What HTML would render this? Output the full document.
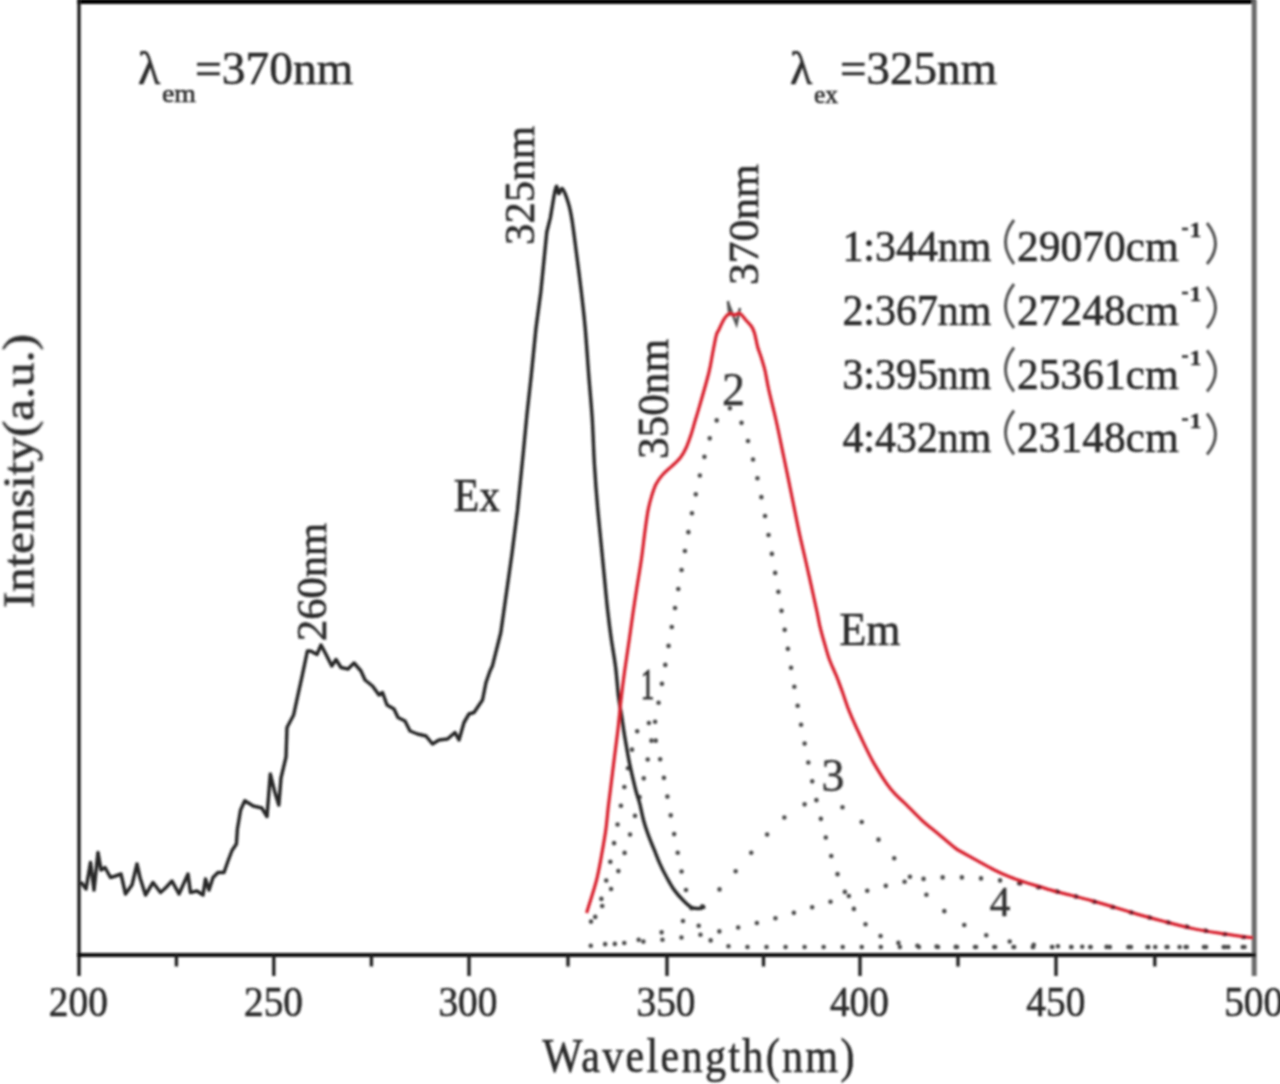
<!DOCTYPE html>
<html><head><meta charset="utf-8"><style>
html,body{margin:0;padding:0;background:#fff;}
body{width:1280px;height:1084px;overflow:hidden;position:relative;font-family:"Liberation Serif",serif;}
svg{position:absolute;left:0;top:0;}
</style></head><body>
<svg width="1280" height="1084" viewBox="0 0 1280 1084">
<defs><filter id="b" x="0" y="0" width="1280" height="1084" filterUnits="userSpaceOnUse"><feGaussianBlur stdDeviation="1"/></filter></defs>
<rect width="1280" height="1084" fill="#fff"/>
<g filter="url(#b)">
<line x1="77" y1="1.6" x2="1256" y2="1.6" stroke="#000" stroke-width="5"/>
<line x1="79" y1="0" x2="79" y2="976" stroke="#1e1e1e" stroke-width="3.4"/>
<line x1="1254.2" y1="0" x2="1254.2" y2="976" stroke="#6a6a6a" stroke-width="5"/>
<line x1="77" y1="955" x2="1256" y2="955" stroke="#111" stroke-width="4"/>
<line x1="176.4" y1="955" x2="176.4" y2="966.5" stroke="#222" stroke-width="3.4"/>
<line x1="273.8" y1="955" x2="273.8" y2="976" stroke="#222" stroke-width="3.4"/>
<line x1="371.4" y1="955" x2="371.4" y2="966.5" stroke="#222" stroke-width="3.4"/>
<line x1="469.0" y1="955" x2="469.0" y2="976" stroke="#222" stroke-width="3.4"/>
<line x1="568.0" y1="955" x2="568.0" y2="966.5" stroke="#222" stroke-width="3.4"/>
<line x1="667.0" y1="955" x2="667.0" y2="976" stroke="#222" stroke-width="3.4"/>
<line x1="763.5" y1="955" x2="763.5" y2="966.5" stroke="#222" stroke-width="3.4"/>
<line x1="860.0" y1="955" x2="860.0" y2="976" stroke="#222" stroke-width="3.4"/>
<line x1="958.0" y1="955" x2="958.0" y2="966.5" stroke="#222" stroke-width="3.4"/>
<line x1="1056.0" y1="955" x2="1056.0" y2="976" stroke="#222" stroke-width="3.4"/>
<line x1="1154.8" y1="955" x2="1154.8" y2="966.5" stroke="#222" stroke-width="3.4"/>
<path d="M587.0,932.4 L587.5,931.7 L588.0,930.9 L588.5,930.2 L589.0,929.4 L589.5,928.6 L590.0,927.7 L590.5,926.9 L591.0,925.9 L591.5,925.0 L592.0,924.0 L592.5,923.0 L593.0,922.0 L593.5,920.9 L594.0,919.8 L594.5,918.6 L595.0,917.5 L595.5,916.2 L596.0,915.0 L596.5,913.7 L597.0,912.3 L597.5,911.0 L598.0,909.6 L598.5,908.1 L599.0,906.6 L599.5,905.1 L600.0,903.5 L600.5,901.9 L601.0,900.2 L601.5,898.5 L602.0,896.8 L602.5,895.0 L603.0,893.2 L603.5,891.3 L604.0,889.4 L604.5,887.5 L605.0,885.5 L605.5,883.5 L606.0,881.4 L606.5,879.3 L607.0,877.2 L607.5,875.0 L608.0,872.8 L608.5,870.5 L609.0,868.2 L609.5,865.9 L610.0,863.5 L610.5,861.1 L611.0,858.7 L611.5,856.3 L612.0,853.8 L612.5,851.2 L613.0,848.7 L613.5,846.1 L614.0,843.5 L614.5,840.9 L615.0,838.2 L615.5,835.6 L616.0,832.9 L616.5,830.2 L617.0,827.5 L617.5,824.7 L618.0,822.0 L618.5,819.2 L619.0,816.5 L619.5,813.7 L620.0,810.9 L620.5,808.1 L621.0,805.4 L621.5,802.6 L622.0,799.8 L622.5,797.1 L623.0,794.3 L623.5,791.6 L624.0,788.9 L624.5,786.2 L625.0,783.5 L625.5,780.9 L626.0,778.2 L626.5,775.6 L627.0,773.0 L627.5,770.5 L628.0,768.0 L628.5,765.5 L629.0,763.1 L629.5,760.7 L630.0,758.4 L630.5,756.1 L631.0,753.9 L631.5,751.7 L632.0,749.6 L632.5,747.5 L633.0,745.5 L633.5,743.6 L634.0,741.7 L634.5,739.9 L635.0,738.1 L635.5,736.5 L636.0,734.9 L636.5,733.3 L637.0,731.9 L637.5,730.5 L638.0,729.2 L638.5,728.0 L639.0,726.9 L639.5,725.9 L640.0,724.9 L640.5,724.0 L641.0,723.3 L641.5,722.6 L642.0,722.0 L642.5,721.4 L643.0,721.0 L643.5,720.7 L644.0,720.5 L644.5,720.3 L645.0,720.3 L645.5,720.3 L646.0,720.4 L646.5,720.6 L647.0,721.0 L647.5,721.4 L648.0,721.9 L648.5,722.5 L649.0,723.1 L649.5,723.9 L650.0,724.8 L650.5,725.7 L651.0,726.8 L651.5,727.9 L652.0,729.1 L652.5,730.4 L653.0,731.8 L653.5,733.2 L654.0,734.7 L654.5,736.3 L655.0,738.0 L655.5,739.8 L656.0,741.6 L656.5,743.5 L657.0,745.4 L657.5,747.4 L658.0,749.5 L658.5,751.6 L659.0,753.8 L659.5,756.1 L660.0,758.4 L660.5,760.7 L661.0,763.1 L661.5,765.5 L662.0,768.0 L662.5,770.5 L663.0,773.1 L663.5,775.7 L664.0,778.3 L664.5,780.9 L665.0,783.6 L665.5,786.3 L666.0,789.0 L666.5,791.8 L667.0,794.5 L667.5,797.3 L668.0,800.1 L668.5,802.8 L669.0,805.6 L669.5,808.4 L670.0,811.2 L670.5,814.0 L671.0,816.8 L671.5,819.6 L672.0,822.3 L672.5,825.1 L673.0,827.8 L673.5,830.6 L674.0,833.3 L674.5,836.0 L675.0,838.7 L675.5,841.3 L676.0,844.0 L676.5,846.6 L677.0,849.2 L677.5,851.7 L678.0,854.3 L678.5,856.8 L679.0,859.2 L679.5,861.7 L680.0,864.1 L680.5,866.4 L681.0,868.8 L681.5,871.1 L682.0,873.3 L682.5,875.6 L683.0,877.7 L683.5,879.9 L684.0,882.0 L684.5,884.1 L685.0,886.1 L685.5,888.1 L686.0,890.0 L686.5,891.9 L687.0,893.8 L687.5,895.6 L688.0,897.4 L688.5,899.1 L689.0,900.8 L689.5,902.4 L690.0,904.1 L690.5,905.6 L691.0,907.2 L691.5,908.6 L692.0,910.1 L692.5,911.5 L693.0,912.9 L693.5,914.2 L694.0,915.5 L694.5,916.7 L695.0,917.9 L695.5,919.1 L696.0,920.3 L696.5,921.4 L697.0,922.4 L697.5,923.5 L698.0,924.5 L698.5,925.4 L699.0,926.4 L699.5,927.3 L700.0,928.1 L700.5,929.0 L701.0,929.8 L701.5,930.6 L702.0,931.3 L702.5,932.0 L703.0,932.7 L703.5,933.4 L704.0,934.0 L704.5,934.7 L705.0,935.2 L705.5,935.8 L706.0,936.4 L706.5,936.9 L707.0,937.4 L707.5,937.9 L708.0,938.3 L708.5,938.8 L709.0,939.2 L709.5,939.6 L710.0,940.0 L710.5,940.3 L711.0,940.7 L711.5,941.0 L712.0,941.3 L712.5,941.6 L713.0,941.9 L713.5,942.2 L714.0,942.5 L714.5,942.7 L715.0,943.0 L715.5,943.2 L716.0,943.4 L716.5,943.6 L717.0,943.8 L717.5,944.0 L718.0,944.2 L718.5,944.3 L719.0,944.5 L719.5,944.6 L720.0,944.8 L720.5,944.9 L721.0,945.0 L721.5,945.2 L722.0,945.3 L722.5,945.4 L723.0,945.5 L723.5,945.6 L724.0,945.7 L724.5,945.7 L725.0,945.8 L725.5,945.9 L726.0,946.0 L726.5,946.0 L727.0,946.1 L727.5,946.2 L728.0,946.2 L728.5,946.3 L729.0,946.3 L729.5,946.4 L730.0,946.4 L730.5,946.4 L731.0,946.5 L731.5,946.5 L732.0,946.6 L732.5,946.6 L733.0,946.6 L733.5,946.6 L734.0,946.7 L734.5,946.7 L735.0,946.7 L735.5,946.7 L736.0,946.8 L736.5,946.8 L737.0,946.8 L737.5,946.8 L738.0,946.8 L738.5,946.8 L739.0,946.8 L739.5,946.9 L740.0,946.9 L740.5,946.9 L741.0,946.9 L741.5,946.9 L742.0,946.9 L742.5,946.9 L743.0,946.9 L743.5,946.9 L744.0,946.9 L744.5,946.9 L745.0,946.9 L745.5,946.9 L746.0,946.9 L746.5,947.0 L747.0,947.0 L747.5,947.0 L748.0,947.0 L748.5,947.0 L749.0,947.0 L749.5,947.0 L750.0,947.0 L750.5,947.0 L751.0,947.0 L751.5,947.0 L752.0,947.0 L752.5,947.0 L753.0,947.0 L753.5,947.0 L754.0,947.0 L754.5,947.0 L755.0,947.0 L755.5,947.0 L756.0,947.0 L756.5,947.0 L757.0,947.0 L757.5,947.0 L758.0,947.0 L758.5,947.0 L759.0,947.0 L759.5,947.0 L760.0,947.0 L760.5,947.0 L761.0,947.0 L761.5,947.0 L762.0,947.0 L762.5,947.0 L763.0,947.0 L763.5,947.0 L764.0,947.0 L764.5,947.0 L765.0,947.0 L765.5,947.0 L766.0,947.0 L766.5,947.0 L767.0,947.0 L767.5,947.0 L768.0,947.0 L768.5,947.0 L769.0,947.0 L769.5,947.0 L770.0,947.0 L770.5,947.0 L771.0,947.0 L771.5,947.0 L772.0,947.0 L772.5,947.0 L773.0,947.0 L773.5,947.0 L774.0,947.0 L774.5,947.0 L775.0,947.0 L775.5,947.0 L776.0,947.0 L776.5,947.0 L777.0,947.0 L777.5,947.0 L778.0,947.0 L778.5,947.0 L779.0,947.0 L779.5,947.0 L780.0,947.0 L780.5,947.0 L781.0,947.0 L781.5,947.0 L782.0,947.0 L782.5,947.0 L783.0,947.0 L783.5,947.0 L784.0,947.0 L784.5,947.0 L785.0,947.0 L785.5,947.0 L786.0,947.0 L786.5,947.0 L787.0,947.0 L787.5,947.0 L788.0,947.0 L788.5,947.0 L789.0,947.0 L789.5,947.0 L790.0,947.0 L790.5,947.0 L791.0,947.0 L791.5,947.0 L792.0,947.0 L792.5,947.0 L793.0,947.0 L793.5,947.0 L794.0,947.0 L794.5,947.0 L795.0,947.0 L795.5,947.0 L796.0,947.0 L796.5,947.0 L797.0,947.0 L797.5,947.0 L798.0,947.0 L798.5,947.0 L799.0,947.0 L799.5,947.0 L800.0,947.0 L800.5,947.0 L801.0,947.0 L801.5,947.0 L802.0,947.0 L802.5,947.0 L803.0,947.0 L803.5,947.0 L804.0,947.0 L804.5,947.0 L805.0,947.0 L805.5,947.0 L806.0,947.0 L806.5,947.0 L807.0,947.0 L807.5,947.0 L808.0,947.0 L808.5,947.0 L809.0,947.0 L809.5,947.0 L810.0,947.0 L810.5,947.0 L811.0,947.0 L811.5,947.0 L812.0,947.0 L812.5,947.0 L813.0,947.0 L813.5,947.0 L814.0,947.0 L814.5,947.0 L815.0,947.0 L815.5,947.0 L816.0,947.0 L816.5,947.0 L817.0,947.0 L817.5,947.0 L818.0,947.0 L818.5,947.0 L819.0,947.0 L819.5,947.0 L820.0,947.0 L820.5,947.0 L821.0,947.0 L821.5,947.0 L822.0,947.0 L822.5,947.0 L823.0,947.0 L823.5,947.0 L824.0,947.0 L824.5,947.0 L825.0,947.0 L825.5,947.0 L826.0,947.0 L826.5,947.0 L827.0,947.0 L827.5,947.0 L828.0,947.0 L828.5,947.0 L829.0,947.0 L829.5,947.0 L830.0,947.0 L830.5,947.0 L831.0,947.0 L831.5,947.0 L832.0,947.0 L832.5,947.0 L833.0,947.0 L833.5,947.0 L834.0,947.0 L834.5,947.0 L835.0,947.0 L835.5,947.0 L836.0,947.0 L836.5,947.0 L837.0,947.0 L837.5,947.0 L838.0,947.0 L838.5,947.0 L839.0,947.0 L839.5,947.0 L840.0,947.0 L840.5,947.0 L841.0,947.0 L841.5,947.0 L842.0,947.0 L842.5,947.0 L843.0,947.0 L843.5,947.0 L844.0,947.0 L844.5,947.0 L845.0,947.0 L845.5,947.0 L846.0,947.0 L846.5,947.0 L847.0,947.0 L847.5,947.0 L848.0,947.0 L848.5,947.0 L849.0,947.0 L849.5,947.0 L850.0,947.0 L850.5,947.0 L851.0,947.0 L851.5,947.0 L852.0,947.0 L852.5,947.0 L853.0,947.0 L853.5,947.0 L854.0,947.0 L854.5,947.0 L855.0,947.0 L855.5,947.0 L856.0,947.0 L856.5,947.0 L857.0,947.0 L857.5,947.0 L858.0,947.0 L858.5,947.0 L859.0,947.0 L859.5,947.0 L860.0,947.0 L860.5,947.0 L861.0,947.0 L861.5,947.0 L862.0,947.0 L862.5,947.0 L863.0,947.0 L863.5,947.0 L864.0,947.0 L864.5,947.0 L865.0,947.0 L865.5,947.0 L866.0,947.0 L866.5,947.0 L867.0,947.0 L867.5,947.0 L868.0,947.0 L868.5,947.0 L869.0,947.0 L869.5,947.0 L870.0,947.0 L870.5,947.0 L871.0,947.0 L871.5,947.0 L872.0,947.0 L872.5,947.0 L873.0,947.0 L873.5,947.0 L874.0,947.0 L874.5,947.0 L875.0,947.0 L875.5,947.0 L876.0,947.0 L876.5,947.0 L877.0,947.0 L877.5,947.0 L878.0,947.0 L878.5,947.0 L879.0,947.0 L879.5,947.0 L880.0,947.0 L880.5,947.0 L881.0,947.0 L881.5,947.0 L882.0,947.0 L882.5,947.0 L883.0,947.0 L883.5,947.0 L884.0,947.0 L884.5,947.0 L885.0,947.0 L885.5,947.0 L886.0,947.0 L886.5,947.0 L887.0,947.0 L887.5,947.0 L888.0,947.0 L888.5,947.0 L889.0,947.0 L889.5,947.0 L890.0,947.0 L890.5,947.0 L891.0,947.0 L891.5,947.0 L892.0,947.0 L892.5,947.0 L893.0,947.0 L893.5,947.0 L894.0,947.0 L894.5,947.0 L895.0,947.0 L895.5,947.0 L896.0,947.0 L896.5,947.0 L897.0,947.0 L897.5,947.0 L898.0,947.0 L898.5,947.0 L899.0,947.0 L899.5,947.0 L900.0,947.0 L900.5,947.0 L901.0,947.0 L901.5,947.0 L902.0,947.0 L902.5,947.0 L903.0,947.0 L903.5,947.0 L904.0,947.0 L904.5,947.0 L905.0,947.0 L905.5,947.0 L906.0,947.0 L906.5,947.0 L907.0,947.0 L907.5,947.0 L908.0,947.0 L908.5,947.0 L909.0,947.0 L909.5,947.0 L910.0,947.0 L910.5,947.0 L911.0,947.0 L911.5,947.0 L912.0,947.0 L912.5,947.0 L913.0,947.0 L913.5,947.0 L914.0,947.0 L914.5,947.0 L915.0,947.0 L915.5,947.0 L916.0,947.0 L916.5,947.0 L917.0,947.0 L917.5,947.0 L918.0,947.0 L918.5,947.0 L919.0,947.0 L919.5,947.0 L920.0,947.0 L920.5,947.0 L921.0,947.0 L921.5,947.0 L922.0,947.0 L922.5,947.0 L923.0,947.0 L923.5,947.0 L924.0,947.0 L924.5,947.0 L925.0,947.0 L925.5,947.0 L926.0,947.0 L926.5,947.0 L927.0,947.0 L927.5,947.0 L928.0,947.0 L928.5,947.0 L929.0,947.0 L929.5,947.0 L930.0,947.0 L930.5,947.0 L931.0,947.0 L931.5,947.0 L932.0,947.0 L932.5,947.0 L933.0,947.0 L933.5,947.0 L934.0,947.0 L934.5,947.0 L935.0,947.0 L935.5,947.0 L936.0,947.0 L936.5,947.0 L937.0,947.0 L937.5,947.0 L938.0,947.0 L938.5,947.0 L939.0,947.0 L939.5,947.0 L940.0,947.0 L940.5,947.0 L941.0,947.0 L941.5,947.0 L942.0,947.0 L942.5,947.0 L943.0,947.0 L943.5,947.0 L944.0,947.0 L944.5,947.0 L945.0,947.0 L945.5,947.0 L946.0,947.0 L946.5,947.0 L947.0,947.0 L947.5,947.0 L948.0,947.0 L948.5,947.0 L949.0,947.0 L949.5,947.0 L950.0,947.0 L950.5,947.0 L951.0,947.0 L951.5,947.0 L952.0,947.0 L952.5,947.0 L953.0,947.0 L953.5,947.0 L954.0,947.0 L954.5,947.0 L955.0,947.0 L955.5,947.0 L956.0,947.0 L956.5,947.0 L957.0,947.0 L957.5,947.0 L958.0,947.0 L958.5,947.0 L959.0,947.0 L959.5,947.0 L960.0,947.0 L960.5,947.0 L961.0,947.0 L961.5,947.0 L962.0,947.0 L962.5,947.0 L963.0,947.0 L963.5,947.0 L964.0,947.0 L964.5,947.0 L965.0,947.0 L965.5,947.0 L966.0,947.0 L966.5,947.0 L967.0,947.0 L967.5,947.0 L968.0,947.0 L968.5,947.0 L969.0,947.0 L969.5,947.0 L970.0,947.0 L970.5,947.0 L971.0,947.0 L971.5,947.0 L972.0,947.0 L972.5,947.0 L973.0,947.0 L973.5,947.0 L974.0,947.0 L974.5,947.0 L975.0,947.0 L975.5,947.0 L976.0,947.0 L976.5,947.0 L977.0,947.0 L977.5,947.0 L978.0,947.0 L978.5,947.0 L979.0,947.0 L979.5,947.0 L980.0,947.0 L980.5,947.0 L981.0,947.0 L981.5,947.0 L982.0,947.0 L982.5,947.0 L983.0,947.0 L983.5,947.0 L984.0,947.0 L984.5,947.0 L985.0,947.0 L985.5,947.0 L986.0,947.0 L986.5,947.0 L987.0,947.0 L987.5,947.0 L988.0,947.0 L988.5,947.0 L989.0,947.0 L989.5,947.0 L990.0,947.0 L990.5,947.0 L991.0,947.0 L991.5,947.0 L992.0,947.0 L992.5,947.0 L993.0,947.0 L993.5,947.0 L994.0,947.0 L994.5,947.0 L995.0,947.0 L995.5,947.0 L996.0,947.0 L996.5,947.0 L997.0,947.0 L997.5,947.0 L998.0,947.0 L998.5,947.0 L999.0,947.0 L999.5,947.0 L1000.0,947.0 L1000.5,947.0 L1001.0,947.0 L1001.5,947.0 L1002.0,947.0 L1002.5,947.0 L1003.0,947.0 L1003.5,947.0 L1004.0,947.0 L1004.5,947.0 L1005.0,947.0 L1005.5,947.0 L1006.0,947.0 L1006.5,947.0 L1007.0,947.0 L1007.5,947.0 L1008.0,947.0 L1008.5,947.0 L1009.0,947.0 L1009.5,947.0 L1010.0,947.0 L1010.5,947.0 L1011.0,947.0 L1011.5,947.0 L1012.0,947.0 L1012.5,947.0 L1013.0,947.0 L1013.5,947.0 L1014.0,947.0 L1014.5,947.0 L1015.0,947.0 L1015.5,947.0 L1016.0,947.0 L1016.5,947.0 L1017.0,947.0 L1017.5,947.0 L1018.0,947.0 L1018.5,947.0 L1019.0,947.0 L1019.5,947.0 L1020.0,947.0 L1020.5,947.0 L1021.0,947.0 L1021.5,947.0 L1022.0,947.0 L1022.5,947.0 L1023.0,947.0 L1023.5,947.0 L1024.0,947.0 L1024.5,947.0 L1025.0,947.0 L1025.5,947.0 L1026.0,947.0 L1026.5,947.0 L1027.0,947.0 L1027.5,947.0 L1028.0,947.0 L1028.5,947.0 L1029.0,947.0 L1029.5,947.0 L1030.0,947.0 L1030.5,947.0 L1031.0,947.0 L1031.5,947.0 L1032.0,947.0 L1032.5,947.0 L1033.0,947.0 L1033.5,947.0 L1034.0,947.0 L1034.5,947.0 L1035.0,947.0 L1035.5,947.0 L1036.0,947.0 L1036.5,947.0 L1037.0,947.0 L1037.5,947.0 L1038.0,947.0 L1038.5,947.0 L1039.0,947.0 L1039.5,947.0 L1040.0,947.0 L1040.5,947.0 L1041.0,947.0 L1041.5,947.0 L1042.0,947.0 L1042.5,947.0 L1043.0,947.0 L1043.5,947.0 L1044.0,947.0 L1044.5,947.0 L1045.0,947.0 L1045.5,947.0 L1046.0,947.0 L1046.5,947.0 L1047.0,947.0 L1047.5,947.0 L1048.0,947.0 L1048.5,947.0 L1049.0,947.0 L1049.5,947.0 L1050.0,947.0 L1050.5,947.0 L1051.0,947.0 L1051.5,947.0 L1052.0,947.0 L1052.5,947.0 L1053.0,947.0 L1053.5,947.0 L1054.0,947.0 L1054.5,947.0 L1055.0,947.0 L1055.5,947.0 L1056.0,947.0 L1056.5,947.0 L1057.0,947.0 L1057.5,947.0 L1058.0,947.0 L1058.5,947.0 L1059.0,947.0 L1059.5,947.0 L1060.0,947.0 L1060.5,947.0 L1061.0,947.0 L1061.5,947.0 L1062.0,947.0 L1062.5,947.0 L1063.0,947.0 L1063.5,947.0 L1064.0,947.0 L1064.5,947.0 L1065.0,947.0 L1065.5,947.0 L1066.0,947.0 L1066.5,947.0 L1067.0,947.0 L1067.5,947.0 L1068.0,947.0 L1068.5,947.0 L1069.0,947.0 L1069.5,947.0 L1070.0,947.0 L1070.5,947.0 L1071.0,947.0 L1071.5,947.0 L1072.0,947.0 L1072.5,947.0 L1073.0,947.0 L1073.5,947.0 L1074.0,947.0 L1074.5,947.0 L1075.0,947.0 L1075.5,947.0 L1076.0,947.0 L1076.5,947.0 L1077.0,947.0 L1077.5,947.0 L1078.0,947.0 L1078.5,947.0 L1079.0,947.0 L1079.5,947.0 L1080.0,947.0 L1080.5,947.0 L1081.0,947.0 L1081.5,947.0 L1082.0,947.0 L1082.5,947.0 L1083.0,947.0 L1083.5,947.0 L1084.0,947.0 L1084.5,947.0 L1085.0,947.0 L1085.5,947.0 L1086.0,947.0 L1086.5,947.0 L1087.0,947.0 L1087.5,947.0 L1088.0,947.0 L1088.5,947.0 L1089.0,947.0 L1089.5,947.0 L1090.0,947.0 L1090.5,947.0 L1091.0,947.0 L1091.5,947.0 L1092.0,947.0 L1092.5,947.0 L1093.0,947.0 L1093.5,947.0 L1094.0,947.0 L1094.5,947.0 L1095.0,947.0 L1095.5,947.0 L1096.0,947.0 L1096.5,947.0 L1097.0,947.0 L1097.5,947.0 L1098.0,947.0 L1098.5,947.0 L1099.0,947.0 L1099.5,947.0 L1100.0,947.0 L1100.5,947.0 L1101.0,947.0 L1101.5,947.0 L1102.0,947.0 L1102.5,947.0 L1103.0,947.0 L1103.5,947.0 L1104.0,947.0 L1104.5,947.0 L1105.0,947.0 L1105.5,947.0 L1106.0,947.0 L1106.5,947.0 L1107.0,947.0 L1107.5,947.0 L1108.0,947.0 L1108.5,947.0 L1109.0,947.0 L1109.5,947.0 L1110.0,947.0 L1110.5,947.0 L1111.0,947.0 L1111.5,947.0 L1112.0,947.0 L1112.5,947.0 L1113.0,947.0 L1113.5,947.0 L1114.0,947.0 L1114.5,947.0 L1115.0,947.0 L1115.5,947.0 L1116.0,947.0 L1116.5,947.0 L1117.0,947.0 L1117.5,947.0 L1118.0,947.0 L1118.5,947.0 L1119.0,947.0 L1119.5,947.0 L1120.0,947.0 L1120.5,947.0 L1121.0,947.0 L1121.5,947.0 L1122.0,947.0 L1122.5,947.0 L1123.0,947.0 L1123.5,947.0 L1124.0,947.0 L1124.5,947.0 L1125.0,947.0 L1125.5,947.0 L1126.0,947.0 L1126.5,947.0 L1127.0,947.0 L1127.5,947.0 L1128.0,947.0 L1128.5,947.0 L1129.0,947.0 L1129.5,947.0 L1130.0,947.0 L1130.5,947.0 L1131.0,947.0 L1131.5,947.0 L1132.0,947.0 L1132.5,947.0 L1133.0,947.0 L1133.5,947.0 L1134.0,947.0 L1134.5,947.0 L1135.0,947.0 L1135.5,947.0 L1136.0,947.0 L1136.5,947.0 L1137.0,947.0 L1137.5,947.0 L1138.0,947.0 L1138.5,947.0 L1139.0,947.0 L1139.5,947.0 L1140.0,947.0 L1140.5,947.0 L1141.0,947.0 L1141.5,947.0 L1142.0,947.0 L1142.5,947.0 L1143.0,947.0 L1143.5,947.0 L1144.0,947.0 L1144.5,947.0 L1145.0,947.0 L1145.5,947.0 L1146.0,947.0 L1146.5,947.0 L1147.0,947.0 L1147.5,947.0 L1148.0,947.0 L1148.5,947.0 L1149.0,947.0 L1149.5,947.0 L1150.0,947.0 L1150.5,947.0 L1151.0,947.0 L1151.5,947.0 L1152.0,947.0 L1152.5,947.0 L1153.0,947.0 L1153.5,947.0 L1154.0,947.0 L1154.5,947.0 L1155.0,947.0 L1155.5,947.0 L1156.0,947.0 L1156.5,947.0 L1157.0,947.0 L1157.5,947.0 L1158.0,947.0 L1158.5,947.0 L1159.0,947.0 L1159.5,947.0 L1160.0,947.0 L1160.5,947.0 L1161.0,947.0 L1161.5,947.0 L1162.0,947.0 L1162.5,947.0 L1163.0,947.0 L1163.5,947.0 L1164.0,947.0 L1164.5,947.0 L1165.0,947.0 L1165.5,947.0 L1166.0,947.0 L1166.5,947.0 L1167.0,947.0 L1167.5,947.0 L1168.0,947.0 L1168.5,947.0 L1169.0,947.0 L1169.5,947.0 L1170.0,947.0 L1170.5,947.0 L1171.0,947.0 L1171.5,947.0 L1172.0,947.0 L1172.5,947.0 L1173.0,947.0 L1173.5,947.0 L1174.0,947.0 L1174.5,947.0 L1175.0,947.0 L1175.5,947.0 L1176.0,947.0 L1176.5,947.0 L1177.0,947.0 L1177.5,947.0 L1178.0,947.0 L1178.5,947.0 L1179.0,947.0 L1179.5,947.0 L1180.0,947.0 L1180.5,947.0 L1181.0,947.0 L1181.5,947.0 L1182.0,947.0 L1182.5,947.0 L1183.0,947.0 L1183.5,947.0 L1184.0,947.0 L1184.5,947.0 L1185.0,947.0 L1185.5,947.0 L1186.0,947.0 L1186.5,947.0 L1187.0,947.0 L1187.5,947.0 L1188.0,947.0 L1188.5,947.0 L1189.0,947.0 L1189.5,947.0 L1190.0,947.0 L1190.5,947.0 L1191.0,947.0 L1191.5,947.0 L1192.0,947.0 L1192.5,947.0 L1193.0,947.0 L1193.5,947.0 L1194.0,947.0 L1194.5,947.0 L1195.0,947.0 L1195.5,947.0 L1196.0,947.0 L1196.5,947.0 L1197.0,947.0 L1197.5,947.0 L1198.0,947.0 L1198.5,947.0 L1199.0,947.0 L1199.5,947.0 L1200.0,947.0 L1200.5,947.0 L1201.0,947.0 L1201.5,947.0 L1202.0,947.0 L1202.5,947.0 L1203.0,947.0 L1203.5,947.0 L1204.0,947.0 L1204.5,947.0 L1205.0,947.0 L1205.5,947.0 L1206.0,947.0 L1206.5,947.0 L1207.0,947.0 L1207.5,947.0 L1208.0,947.0 L1208.5,947.0 L1209.0,947.0 L1209.5,947.0 L1210.0,947.0 L1210.5,947.0 L1211.0,947.0 L1211.5,947.0 L1212.0,947.0 L1212.5,947.0 L1213.0,947.0 L1213.5,947.0 L1214.0,947.0 L1214.5,947.0 L1215.0,947.0 L1215.5,947.0 L1216.0,947.0 L1216.5,947.0 L1217.0,947.0 L1217.5,947.0 L1218.0,947.0 L1218.5,947.0 L1219.0,947.0 L1219.5,947.0 L1220.0,947.0 L1220.5,947.0 L1221.0,947.0 L1221.5,947.0 L1222.0,947.0 L1222.5,947.0 L1223.0,947.0 L1223.5,947.0 L1224.0,947.0 L1224.5,947.0 L1225.0,947.0 L1225.5,947.0 L1226.0,947.0 L1226.5,947.0 L1227.0,947.0 L1227.5,947.0 L1228.0,947.0 L1228.5,947.0 L1229.0,947.0 L1229.5,947.0 L1230.0,947.0 L1230.5,947.0 L1231.0,947.0 L1231.5,947.0 L1232.0,947.0 L1232.5,947.0 L1233.0,947.0 L1233.5,947.0 L1234.0,947.0 L1234.5,947.0 L1235.0,947.0 L1235.5,947.0 L1236.0,947.0 L1236.5,947.0 L1237.0,947.0 L1237.5,947.0 L1238.0,947.0 L1238.5,947.0 L1239.0,947.0 L1239.5,947.0 L1240.0,947.0 L1240.5,947.0 L1241.0,947.0 L1241.5,947.0 L1242.0,947.0 L1242.5,947.0 L1243.0,947.0 L1243.5,947.0 L1244.0,947.0 L1244.5,947.0 L1245.0,947.0 L1245.5,947.0 L1246.0,947.0 L1246.5,947.0 L1247.0,947.0 L1247.5,947.0 L1248.0,947.0 L1248.5,947.0 L1249.0,947.0 L1249.5,947.0 L1250.0,947.0 L1250.5,947.0 L1251.0,947.0 L1251.5,947.0 L1252.0,947.0 L1252.5,947.0 L1253.0,947.0" fill="none" stroke="#4a4a4a" stroke-width="4.6" stroke-linecap="round" stroke-dasharray="0 19.05" stroke-dashoffset="1.45"/>
<path d="M587.0,925.8 L587.5,925.3 L588.0,924.8 L588.5,924.3 L589.0,923.7 L589.5,923.2 L590.0,922.7 L590.5,922.1 L591.0,921.6 L591.5,921.0 L592.0,920.4 L592.5,919.8 L593.0,919.2 L593.5,918.6 L594.0,918.0 L594.5,917.3 L595.0,916.7 L595.5,916.0 L596.0,915.4 L596.5,914.7 L597.0,914.0 L597.5,913.3 L598.0,912.6 L598.5,911.8 L599.0,911.1 L599.5,910.3 L600.0,909.6 L600.5,908.8 L601.0,908.0 L601.5,907.2 L602.0,906.4 L602.5,905.5 L603.0,904.7 L603.5,903.8 L604.0,902.9 L604.5,902.0 L605.0,901.1 L605.5,900.2 L606.0,899.3 L606.5,898.3 L607.0,897.4 L607.5,896.4 L608.0,895.4 L608.5,894.4 L609.0,893.4 L609.5,892.3 L610.0,891.3 L610.5,890.2 L611.0,889.1 L611.5,888.0 L612.0,886.9 L612.5,885.7 L613.0,884.6 L613.5,883.4 L614.0,882.2 L614.5,881.0 L615.0,879.8 L615.5,878.5 L616.0,877.3 L616.5,876.0 L617.0,874.7 L617.5,873.4 L618.0,872.1 L618.5,870.7 L619.0,869.4 L619.5,868.0 L620.0,866.6 L620.5,865.2 L621.0,863.7 L621.5,862.3 L622.0,860.8 L622.5,859.3 L623.0,857.8 L623.5,856.3 L624.0,854.7 L624.5,853.2 L625.0,851.6 L625.5,850.0 L626.0,848.4 L626.5,846.7 L627.0,845.1 L627.5,843.4 L628.0,841.7 L628.5,840.0 L629.0,838.2 L629.5,836.5 L630.0,834.7 L630.5,832.9 L631.0,831.1 L631.5,829.3 L632.0,827.4 L632.5,825.5 L633.0,823.6 L633.5,821.7 L634.0,819.8 L634.5,817.9 L635.0,815.9 L635.5,813.9 L636.0,811.9 L636.5,809.9 L637.0,807.8 L637.5,805.8 L638.0,803.7 L638.5,801.6 L639.0,799.4 L639.5,797.3 L640.0,795.1 L640.5,793.0 L641.0,790.8 L641.5,788.5 L642.0,786.3 L642.5,784.1 L643.0,781.8 L643.5,779.5 L644.0,777.2 L644.5,774.9 L645.0,772.5 L645.5,770.2 L646.0,767.8 L646.5,765.4 L647.0,763.0 L647.5,760.5 L648.0,758.1 L648.5,755.6 L649.0,753.2 L649.5,750.7 L650.0,748.2 L650.5,745.6 L651.0,743.1 L651.5,740.5 L652.0,737.9 L652.5,735.4 L653.0,732.8 L653.5,730.1 L654.0,727.5 L654.5,724.9 L655.0,722.2 L655.5,719.5 L656.0,716.8 L656.5,714.1 L657.0,711.4 L657.5,708.7 L658.0,705.9 L658.5,703.2 L659.0,700.4 L659.5,697.7 L660.0,694.9 L660.5,692.1 L661.0,689.3 L661.5,686.5 L662.0,683.6 L662.5,680.8 L663.0,678.0 L663.5,675.1 L664.0,672.3 L664.5,669.4 L665.0,666.5 L665.5,663.6 L666.0,660.7 L666.5,657.9 L667.0,655.0 L667.5,652.1 L668.0,649.1 L668.5,646.2 L669.0,643.3 L669.5,640.4 L670.0,637.5 L670.5,634.5 L671.0,631.6 L671.5,628.7 L672.0,625.7 L672.5,622.8 L673.0,619.9 L673.5,616.9 L674.0,614.0 L674.5,611.1 L675.0,608.2 L675.5,605.2 L676.0,602.3 L676.5,599.4 L677.0,596.5 L677.5,593.5 L678.0,590.6 L678.5,587.7 L679.0,584.8 L679.5,581.9 L680.0,579.0 L680.5,576.2 L681.0,573.3 L681.5,570.4 L682.0,567.6 L682.5,564.7 L683.0,561.9 L683.5,559.0 L684.0,556.2 L684.5,553.4 L685.0,550.6 L685.5,547.8 L686.0,545.1 L686.5,542.3 L687.0,539.6 L687.5,536.8 L688.0,534.1 L688.5,531.4 L689.0,528.8 L689.5,526.1 L690.0,523.4 L690.5,520.8 L691.0,518.2 L691.5,515.6 L692.0,513.0 L692.5,510.5 L693.0,507.9 L693.5,505.4 L694.0,502.9 L694.5,500.5 L695.0,498.0 L695.5,495.6 L696.0,493.2 L696.5,490.8 L697.0,488.5 L697.5,486.1 L698.0,483.8 L698.5,481.6 L699.0,479.3 L699.5,477.1 L700.0,474.9 L700.5,472.7 L701.0,470.6 L701.5,468.5 L702.0,466.4 L702.5,464.4 L703.0,462.3 L703.5,460.4 L704.0,458.4 L704.5,456.5 L705.0,454.6 L705.5,452.7 L706.0,450.9 L706.5,449.1 L707.0,447.3 L707.5,445.6 L708.0,443.9 L708.5,442.3 L709.0,440.6 L709.5,439.0 L710.0,437.5 L710.5,436.0 L711.0,434.5 L711.5,433.1 L712.0,431.7 L712.5,430.3 L713.0,429.0 L713.5,427.7 L714.0,426.4 L714.5,425.2 L715.0,424.0 L715.5,422.9 L716.0,421.8 L716.5,420.8 L717.0,419.8 L717.5,418.8 L718.0,417.9 L718.5,417.0 L719.0,416.1 L719.5,415.3 L720.0,414.5 L720.5,413.8 L721.0,413.1 L721.5,412.5 L722.0,411.9 L722.5,411.4 L723.0,410.8 L723.5,410.4 L724.0,410.0 L724.5,409.6 L725.0,409.2 L725.5,408.9 L726.0,408.7 L726.5,408.5 L727.0,408.3 L727.5,408.2 L728.0,408.1 L728.5,408.1 L729.0,408.1 L729.5,408.1 L730.0,408.2 L730.5,408.4 L731.0,408.6 L731.5,408.8 L732.0,409.1 L732.5,409.4 L733.0,409.8 L733.5,410.2 L734.0,410.6 L734.5,411.1 L735.0,411.7 L735.5,412.3 L736.0,412.9 L736.5,413.6 L737.0,414.3 L737.5,415.1 L738.0,415.9 L738.5,416.8 L739.0,417.7 L739.5,418.6 L740.0,419.6 L740.5,420.7 L741.0,421.7 L741.5,422.8 L742.0,424.0 L742.5,425.2 L743.0,426.4 L743.5,427.7 L744.0,429.0 L744.5,430.4 L745.0,431.8 L745.5,433.2 L746.0,434.7 L746.5,436.2 L747.0,437.8 L747.5,439.4 L748.0,441.0 L748.5,442.7 L749.0,444.4 L749.5,446.2 L750.0,447.9 L750.5,449.8 L751.0,451.6 L751.5,453.5 L752.0,455.4 L752.5,457.4 L753.0,459.4 L753.5,461.4 L754.0,463.4 L754.5,465.5 L755.0,467.6 L755.5,469.8 L756.0,472.0 L756.5,474.2 L757.0,476.4 L757.5,478.7 L758.0,481.0 L758.5,483.3 L759.0,485.6 L759.5,488.0 L760.0,490.4 L760.5,492.9 L761.0,495.3 L761.5,497.8 L762.0,500.3 L762.5,502.8 L763.0,505.4 L763.5,507.9 L764.0,510.5 L764.5,513.1 L765.0,515.8 L765.5,518.4 L766.0,521.1 L766.5,523.8 L767.0,526.5 L767.5,529.3 L768.0,532.0 L768.5,534.8 L769.0,537.6 L769.5,540.4 L770.0,543.2 L770.5,546.0 L771.0,548.8 L771.5,551.7 L772.0,554.6 L772.5,557.4 L773.0,560.3 L773.5,563.2 L774.0,566.1 L774.5,569.1 L775.0,572.0 L775.5,574.9 L776.0,577.9 L776.5,580.8 L777.0,583.8 L777.5,586.8 L778.0,589.7 L778.5,592.7 L779.0,595.7 L779.5,598.7 L780.0,601.7 L780.5,604.7 L781.0,607.7 L781.5,610.7 L782.0,613.7 L782.5,616.7 L783.0,619.7 L783.5,622.7 L784.0,625.7 L784.5,628.7 L785.0,631.7 L785.5,634.7 L786.0,637.7 L786.5,640.7 L787.0,643.7 L787.5,646.7 L788.0,649.7 L788.5,652.6 L789.0,655.6 L789.5,658.6 L790.0,661.5 L790.5,664.5 L791.0,667.4 L791.5,670.4 L792.0,673.3 L792.5,676.2 L793.0,679.2 L793.5,682.1 L794.0,685.0 L794.5,687.8 L795.0,690.7 L795.5,693.6 L796.0,696.4 L796.5,699.3 L797.0,702.1 L797.5,704.9 L798.0,707.8 L798.5,710.5 L799.0,713.3 L799.5,716.1 L800.0,718.9 L800.5,721.6 L801.0,724.3 L801.5,727.0 L802.0,729.7 L802.5,732.4 L803.0,735.1 L803.5,737.7 L804.0,740.4 L804.5,743.0 L805.0,745.6 L805.5,748.2 L806.0,750.8 L806.5,753.3 L807.0,755.9 L807.5,758.4 L808.0,760.9 L808.5,763.4 L809.0,765.8 L809.5,768.3 L810.0,770.7 L810.5,773.1 L811.0,775.5 L811.5,777.9 L812.0,780.3 L812.5,782.6 L813.0,784.9 L813.5,787.2 L814.0,789.5 L814.5,791.8 L815.0,794.0 L815.5,796.2 L816.0,798.4 L816.5,800.6 L817.0,802.8 L817.5,804.9 L818.0,807.0 L818.5,809.1 L819.0,811.2 L819.5,813.3 L820.0,815.3 L820.5,817.3 L821.0,819.4 L821.5,821.3 L822.0,823.3 L822.5,825.2 L823.0,827.2 L823.5,829.1 L824.0,830.9 L824.5,832.8 L825.0,834.6 L825.5,836.4 L826.0,838.2 L826.5,840.0 L827.0,841.8 L827.5,843.5 L828.0,845.2 L828.5,846.9 L829.0,848.6 L829.5,850.3 L830.0,851.9 L830.5,853.5 L831.0,855.1 L831.5,856.7 L832.0,858.3 L832.5,859.8 L833.0,861.3 L833.5,862.8 L834.0,864.3 L834.5,865.8 L835.0,867.2 L835.5,868.6 L836.0,870.0 L836.5,871.4 L837.0,872.8 L837.5,874.1 L838.0,875.5 L838.5,876.8 L839.0,878.1 L839.5,879.4 L840.0,880.6 L840.5,881.9 L841.0,883.1 L841.5,884.3 L842.0,885.5 L842.5,886.6 L843.0,887.8 L843.5,888.9 L844.0,890.0 L844.5,891.1 L845.0,892.2 L845.5,893.3 L846.0,894.3 L846.5,895.4 L847.0,896.4 L847.5,897.4 L848.0,898.4 L848.5,899.4 L849.0,900.3 L849.5,901.3 L850.0,902.2 L850.5,903.1 L851.0,904.0 L851.5,904.9 L852.0,905.7 L852.5,906.6 L853.0,907.4 L853.5,908.3 L854.0,909.1 L854.5,909.9 L855.0,910.6 L855.5,911.4 L856.0,912.2 L856.5,912.9 L857.0,913.6 L857.5,914.4 L858.0,915.1 L858.5,915.8 L859.0,916.4 L859.5,917.1 L860.0,917.8 L860.5,918.4 L861.0,919.0 L861.5,919.7 L862.0,920.3 L862.5,920.9 L863.0,921.4 L863.5,922.0 L864.0,922.6 L864.5,923.1 L865.0,923.7 L865.5,924.2 L866.0,924.7 L866.5,925.2 L867.0,925.7 L867.5,926.2 L868.0,926.7 L868.5,927.2 L869.0,927.7 L869.5,928.1 L870.0,928.6 L870.5,929.0 L871.0,929.4 L871.5,929.8 L872.0,930.2 L872.5,930.6 L873.0,931.0 L873.5,931.4 L874.0,931.8 L874.5,932.2 L875.0,932.5 L875.5,932.9 L876.0,933.2 L876.5,933.6 L877.0,933.9 L877.5,934.2 L878.0,934.5 L878.5,934.9 L879.0,935.2 L879.5,935.5 L880.0,935.7 L880.5,936.0 L881.0,936.3 L881.5,936.6 L882.0,936.9 L882.5,937.1 L883.0,937.4 L883.5,937.6 L884.0,937.9 L884.5,938.1 L885.0,938.3 L885.5,938.6 L886.0,938.8 L886.5,939.0 L887.0,939.2 L887.5,939.4 L888.0,939.6 L888.5,939.8 L889.0,940.0 L889.5,940.2 L890.0,940.4 L890.5,940.5 L891.0,940.7 L891.5,940.9 L892.0,941.1 L892.5,941.2 L893.0,941.4 L893.5,941.5 L894.0,941.7 L894.5,941.8 L895.0,942.0 L895.5,942.1 L896.0,942.2 L896.5,942.4 L897.0,942.5 L897.5,942.6 L898.0,942.8 L898.5,942.9 L899.0,943.0 L899.5,943.1 L900.0,943.2 L900.5,943.3 L901.0,943.4 L901.5,943.5 L902.0,943.6 L902.5,943.7 L903.0,943.8 L903.5,943.9 L904.0,944.0 L904.5,944.1 L905.0,944.2 L905.5,944.3 L906.0,944.3 L906.5,944.4 L907.0,944.5 L907.5,944.6 L908.0,944.6 L908.5,944.7 L909.0,944.8 L909.5,944.9 L910.0,944.9 L910.5,945.0 L911.0,945.0 L911.5,945.1 L912.0,945.2 L912.5,945.2 L913.0,945.3 L913.5,945.3 L914.0,945.4 L914.5,945.4 L915.0,945.5 L915.5,945.5 L916.0,945.6 L916.5,945.6 L917.0,945.7 L917.5,945.7 L918.0,945.7 L918.5,945.8 L919.0,945.8 L919.5,945.9 L920.0,945.9 L920.5,945.9 L921.0,946.0 L921.5,946.0 L922.0,946.0 L922.5,946.1 L923.0,946.1 L923.5,946.1 L924.0,946.1 L924.5,946.2 L925.0,946.2 L925.5,946.2 L926.0,946.3 L926.5,946.3 L927.0,946.3 L927.5,946.3 L928.0,946.3 L928.5,946.4 L929.0,946.4 L929.5,946.4 L930.0,946.4 L930.5,946.4 L931.0,946.5 L931.5,946.5 L932.0,946.5 L932.5,946.5 L933.0,946.5 L933.5,946.6 L934.0,946.6 L934.5,946.6 L935.0,946.6 L935.5,946.6 L936.0,946.6 L936.5,946.6 L937.0,946.6 L937.5,946.7 L938.0,946.7 L938.5,946.7 L939.0,946.7 L939.5,946.7 L940.0,946.7 L940.5,946.7 L941.0,946.7 L941.5,946.7 L942.0,946.8 L942.5,946.8 L943.0,946.8 L943.5,946.8 L944.0,946.8 L944.5,946.8 L945.0,946.8 L945.5,946.8 L946.0,946.8 L946.5,946.8 L947.0,946.8 L947.5,946.8 L948.0,946.8 L948.5,946.8 L949.0,946.9 L949.5,946.9 L950.0,946.9 L950.5,946.9 L951.0,946.9 L951.5,946.9 L952.0,946.9 L952.5,946.9 L953.0,946.9 L953.5,946.9 L954.0,946.9 L954.5,946.9 L955.0,946.9 L955.5,946.9 L956.0,946.9 L956.5,946.9 L957.0,946.9 L957.5,946.9 L958.0,946.9 L958.5,946.9 L959.0,946.9 L959.5,946.9 L960.0,946.9 L960.5,946.9 L961.0,946.9 L961.5,946.9 L962.0,946.9 L962.5,946.9 L963.0,946.9 L963.5,947.0 L964.0,947.0 L964.5,947.0 L965.0,947.0 L965.5,947.0 L966.0,947.0 L966.5,947.0 L967.0,947.0 L967.5,947.0 L968.0,947.0 L968.5,947.0 L969.0,947.0 L969.5,947.0 L970.0,947.0 L970.5,947.0 L971.0,947.0 L971.5,947.0 L972.0,947.0 L972.5,947.0 L973.0,947.0 L973.5,947.0 L974.0,947.0 L974.5,947.0 L975.0,947.0 L975.5,947.0 L976.0,947.0 L976.5,947.0 L977.0,947.0 L977.5,947.0 L978.0,947.0 L978.5,947.0 L979.0,947.0 L979.5,947.0 L980.0,947.0 L980.5,947.0 L981.0,947.0 L981.5,947.0 L982.0,947.0 L982.5,947.0 L983.0,947.0 L983.5,947.0 L984.0,947.0 L984.5,947.0 L985.0,947.0 L985.5,947.0 L986.0,947.0 L986.5,947.0 L987.0,947.0 L987.5,947.0 L988.0,947.0 L988.5,947.0 L989.0,947.0 L989.5,947.0 L990.0,947.0 L990.5,947.0 L991.0,947.0 L991.5,947.0 L992.0,947.0 L992.5,947.0 L993.0,947.0 L993.5,947.0 L994.0,947.0 L994.5,947.0 L995.0,947.0 L995.5,947.0 L996.0,947.0 L996.5,947.0 L997.0,947.0 L997.5,947.0 L998.0,947.0 L998.5,947.0 L999.0,947.0 L999.5,947.0 L1000.0,947.0 L1000.5,947.0 L1001.0,947.0 L1001.5,947.0 L1002.0,947.0 L1002.5,947.0 L1003.0,947.0 L1003.5,947.0 L1004.0,947.0 L1004.5,947.0 L1005.0,947.0 L1005.5,947.0 L1006.0,947.0 L1006.5,947.0 L1007.0,947.0 L1007.5,947.0 L1008.0,947.0 L1008.5,947.0 L1009.0,947.0 L1009.5,947.0 L1010.0,947.0 L1010.5,947.0 L1011.0,947.0 L1011.5,947.0 L1012.0,947.0 L1012.5,947.0 L1013.0,947.0 L1013.5,947.0 L1014.0,947.0 L1014.5,947.0 L1015.0,947.0 L1015.5,947.0 L1016.0,947.0 L1016.5,947.0 L1017.0,947.0 L1017.5,947.0 L1018.0,947.0 L1018.5,947.0 L1019.0,947.0 L1019.5,947.0 L1020.0,947.0 L1020.5,947.0 L1021.0,947.0 L1021.5,947.0 L1022.0,947.0 L1022.5,947.0 L1023.0,947.0 L1023.5,947.0 L1024.0,947.0 L1024.5,947.0 L1025.0,947.0 L1025.5,947.0 L1026.0,947.0 L1026.5,947.0 L1027.0,947.0 L1027.5,947.0 L1028.0,947.0 L1028.5,947.0 L1029.0,947.0 L1029.5,947.0 L1030.0,947.0 L1030.5,947.0 L1031.0,947.0 L1031.5,947.0 L1032.0,947.0 L1032.5,947.0 L1033.0,947.0 L1033.5,947.0 L1034.0,947.0 L1034.5,947.0 L1035.0,947.0 L1035.5,947.0 L1036.0,947.0 L1036.5,947.0 L1037.0,947.0 L1037.5,947.0 L1038.0,947.0 L1038.5,947.0 L1039.0,947.0 L1039.5,947.0 L1040.0,947.0 L1040.5,947.0 L1041.0,947.0 L1041.5,947.0 L1042.0,947.0 L1042.5,947.0 L1043.0,947.0 L1043.5,947.0 L1044.0,947.0 L1044.5,947.0 L1045.0,947.0 L1045.5,947.0 L1046.0,947.0 L1046.5,947.0 L1047.0,947.0 L1047.5,947.0 L1048.0,947.0 L1048.5,947.0 L1049.0,947.0 L1049.5,947.0 L1050.0,947.0 L1050.5,947.0 L1051.0,947.0 L1051.5,947.0 L1052.0,947.0 L1052.5,947.0 L1053.0,947.0 L1053.5,947.0 L1054.0,947.0 L1054.5,947.0 L1055.0,947.0 L1055.5,947.0 L1056.0,947.0 L1056.5,947.0 L1057.0,947.0 L1057.5,947.0 L1058.0,947.0 L1058.5,947.0 L1059.0,947.0 L1059.5,947.0 L1060.0,947.0 L1060.5,947.0 L1061.0,947.0 L1061.5,947.0 L1062.0,947.0 L1062.5,947.0 L1063.0,947.0 L1063.5,947.0 L1064.0,947.0 L1064.5,947.0 L1065.0,947.0 L1065.5,947.0 L1066.0,947.0 L1066.5,947.0 L1067.0,947.0 L1067.5,947.0 L1068.0,947.0 L1068.5,947.0 L1069.0,947.0 L1069.5,947.0 L1070.0,947.0 L1070.5,947.0 L1071.0,947.0 L1071.5,947.0 L1072.0,947.0 L1072.5,947.0 L1073.0,947.0 L1073.5,947.0 L1074.0,947.0 L1074.5,947.0 L1075.0,947.0 L1075.5,947.0 L1076.0,947.0 L1076.5,947.0 L1077.0,947.0 L1077.5,947.0 L1078.0,947.0 L1078.5,947.0 L1079.0,947.0 L1079.5,947.0 L1080.0,947.0 L1080.5,947.0 L1081.0,947.0 L1081.5,947.0 L1082.0,947.0 L1082.5,947.0 L1083.0,947.0 L1083.5,947.0 L1084.0,947.0 L1084.5,947.0 L1085.0,947.0 L1085.5,947.0 L1086.0,947.0 L1086.5,947.0 L1087.0,947.0 L1087.5,947.0 L1088.0,947.0 L1088.5,947.0 L1089.0,947.0 L1089.5,947.0 L1090.0,947.0 L1090.5,947.0 L1091.0,947.0 L1091.5,947.0 L1092.0,947.0 L1092.5,947.0 L1093.0,947.0 L1093.5,947.0 L1094.0,947.0 L1094.5,947.0 L1095.0,947.0 L1095.5,947.0 L1096.0,947.0 L1096.5,947.0 L1097.0,947.0 L1097.5,947.0 L1098.0,947.0 L1098.5,947.0 L1099.0,947.0 L1099.5,947.0 L1100.0,947.0 L1100.5,947.0 L1101.0,947.0 L1101.5,947.0 L1102.0,947.0 L1102.5,947.0 L1103.0,947.0 L1103.5,947.0 L1104.0,947.0 L1104.5,947.0 L1105.0,947.0 L1105.5,947.0 L1106.0,947.0 L1106.5,947.0 L1107.0,947.0 L1107.5,947.0 L1108.0,947.0 L1108.5,947.0 L1109.0,947.0 L1109.5,947.0 L1110.0,947.0 L1110.5,947.0 L1111.0,947.0 L1111.5,947.0 L1112.0,947.0 L1112.5,947.0 L1113.0,947.0 L1113.5,947.0 L1114.0,947.0 L1114.5,947.0 L1115.0,947.0 L1115.5,947.0 L1116.0,947.0 L1116.5,947.0 L1117.0,947.0 L1117.5,947.0 L1118.0,947.0 L1118.5,947.0 L1119.0,947.0 L1119.5,947.0 L1120.0,947.0 L1120.5,947.0 L1121.0,947.0 L1121.5,947.0 L1122.0,947.0 L1122.5,947.0 L1123.0,947.0 L1123.5,947.0 L1124.0,947.0 L1124.5,947.0 L1125.0,947.0 L1125.5,947.0 L1126.0,947.0 L1126.5,947.0 L1127.0,947.0 L1127.5,947.0 L1128.0,947.0 L1128.5,947.0 L1129.0,947.0 L1129.5,947.0 L1130.0,947.0 L1130.5,947.0 L1131.0,947.0 L1131.5,947.0 L1132.0,947.0 L1132.5,947.0 L1133.0,947.0 L1133.5,947.0 L1134.0,947.0 L1134.5,947.0 L1135.0,947.0 L1135.5,947.0 L1136.0,947.0 L1136.5,947.0 L1137.0,947.0 L1137.5,947.0 L1138.0,947.0 L1138.5,947.0 L1139.0,947.0 L1139.5,947.0 L1140.0,947.0 L1140.5,947.0 L1141.0,947.0 L1141.5,947.0 L1142.0,947.0 L1142.5,947.0 L1143.0,947.0 L1143.5,947.0 L1144.0,947.0 L1144.5,947.0 L1145.0,947.0 L1145.5,947.0 L1146.0,947.0 L1146.5,947.0 L1147.0,947.0 L1147.5,947.0 L1148.0,947.0 L1148.5,947.0 L1149.0,947.0 L1149.5,947.0 L1150.0,947.0 L1150.5,947.0 L1151.0,947.0 L1151.5,947.0 L1152.0,947.0 L1152.5,947.0 L1153.0,947.0 L1153.5,947.0 L1154.0,947.0 L1154.5,947.0 L1155.0,947.0 L1155.5,947.0 L1156.0,947.0 L1156.5,947.0 L1157.0,947.0 L1157.5,947.0 L1158.0,947.0 L1158.5,947.0 L1159.0,947.0 L1159.5,947.0 L1160.0,947.0 L1160.5,947.0 L1161.0,947.0 L1161.5,947.0 L1162.0,947.0 L1162.5,947.0 L1163.0,947.0 L1163.5,947.0 L1164.0,947.0 L1164.5,947.0 L1165.0,947.0 L1165.5,947.0 L1166.0,947.0 L1166.5,947.0 L1167.0,947.0 L1167.5,947.0 L1168.0,947.0 L1168.5,947.0 L1169.0,947.0 L1169.5,947.0 L1170.0,947.0 L1170.5,947.0 L1171.0,947.0 L1171.5,947.0 L1172.0,947.0 L1172.5,947.0 L1173.0,947.0 L1173.5,947.0 L1174.0,947.0 L1174.5,947.0 L1175.0,947.0 L1175.5,947.0 L1176.0,947.0 L1176.5,947.0 L1177.0,947.0 L1177.5,947.0 L1178.0,947.0 L1178.5,947.0 L1179.0,947.0 L1179.5,947.0 L1180.0,947.0 L1180.5,947.0 L1181.0,947.0 L1181.5,947.0 L1182.0,947.0 L1182.5,947.0 L1183.0,947.0 L1183.5,947.0 L1184.0,947.0 L1184.5,947.0 L1185.0,947.0 L1185.5,947.0 L1186.0,947.0 L1186.5,947.0 L1187.0,947.0 L1187.5,947.0 L1188.0,947.0 L1188.5,947.0 L1189.0,947.0 L1189.5,947.0 L1190.0,947.0 L1190.5,947.0 L1191.0,947.0 L1191.5,947.0 L1192.0,947.0 L1192.5,947.0 L1193.0,947.0 L1193.5,947.0 L1194.0,947.0 L1194.5,947.0 L1195.0,947.0 L1195.5,947.0 L1196.0,947.0 L1196.5,947.0 L1197.0,947.0 L1197.5,947.0 L1198.0,947.0 L1198.5,947.0 L1199.0,947.0 L1199.5,947.0 L1200.0,947.0 L1200.5,947.0 L1201.0,947.0 L1201.5,947.0 L1202.0,947.0 L1202.5,947.0 L1203.0,947.0 L1203.5,947.0 L1204.0,947.0 L1204.5,947.0 L1205.0,947.0 L1205.5,947.0 L1206.0,947.0 L1206.5,947.0 L1207.0,947.0 L1207.5,947.0 L1208.0,947.0 L1208.5,947.0 L1209.0,947.0 L1209.5,947.0 L1210.0,947.0 L1210.5,947.0 L1211.0,947.0 L1211.5,947.0 L1212.0,947.0 L1212.5,947.0 L1213.0,947.0 L1213.5,947.0 L1214.0,947.0 L1214.5,947.0 L1215.0,947.0 L1215.5,947.0 L1216.0,947.0 L1216.5,947.0 L1217.0,947.0 L1217.5,947.0 L1218.0,947.0 L1218.5,947.0 L1219.0,947.0 L1219.5,947.0 L1220.0,947.0 L1220.5,947.0 L1221.0,947.0 L1221.5,947.0 L1222.0,947.0 L1222.5,947.0 L1223.0,947.0 L1223.5,947.0 L1224.0,947.0 L1224.5,947.0 L1225.0,947.0 L1225.5,947.0 L1226.0,947.0 L1226.5,947.0 L1227.0,947.0 L1227.5,947.0 L1228.0,947.0 L1228.5,947.0 L1229.0,947.0 L1229.5,947.0 L1230.0,947.0 L1230.5,947.0 L1231.0,947.0 L1231.5,947.0 L1232.0,947.0 L1232.5,947.0 L1233.0,947.0 L1233.5,947.0 L1234.0,947.0 L1234.5,947.0 L1235.0,947.0 L1235.5,947.0 L1236.0,947.0 L1236.5,947.0 L1237.0,947.0 L1237.5,947.0 L1238.0,947.0 L1238.5,947.0 L1239.0,947.0 L1239.5,947.0 L1240.0,947.0 L1240.5,947.0 L1241.0,947.0 L1241.5,947.0 L1242.0,947.0 L1242.5,947.0 L1243.0,947.0 L1243.5,947.0 L1244.0,947.0 L1244.5,947.0 L1245.0,947.0 L1245.5,947.0 L1246.0,947.0 L1246.5,947.0 L1247.0,947.0 L1247.5,947.0 L1248.0,947.0 L1248.5,947.0 L1249.0,947.0 L1249.5,947.0 L1250.0,947.0 L1250.5,947.0 L1251.0,947.0 L1251.5,947.0 L1252.0,947.0 L1252.5,947.0 L1253.0,947.0" fill="none" stroke="#4a4a4a" stroke-width="4.6" stroke-linecap="round" stroke-dasharray="0 19.25" stroke-dashoffset="13.45"/>
<path d="M587.0,946.0 L587.5,946.0 L588.0,945.9 L588.5,945.9 L589.0,945.9 L589.5,945.9 L590.0,945.8 L590.5,945.8 L591.0,945.8 L591.5,945.8 L592.0,945.7 L592.5,945.7 L593.0,945.7 L593.5,945.7 L594.0,945.6 L594.5,945.6 L595.0,945.6 L595.5,945.6 L596.0,945.5 L596.5,945.5 L597.0,945.5 L597.5,945.4 L598.0,945.4 L598.5,945.4 L599.0,945.3 L599.5,945.3 L600.0,945.3 L600.5,945.2 L601.0,945.2 L601.5,945.2 L602.0,945.1 L602.5,945.1 L603.0,945.0 L603.5,945.0 L604.0,945.0 L604.5,944.9 L605.0,944.9 L605.5,944.8 L606.0,944.8 L606.5,944.8 L607.0,944.7 L607.5,944.7 L608.0,944.6 L608.5,944.6 L609.0,944.5 L609.5,944.5 L610.0,944.4 L610.5,944.4 L611.0,944.3 L611.5,944.3 L612.0,944.2 L612.5,944.2 L613.0,944.1 L613.5,944.1 L614.0,944.0 L614.5,943.9 L615.0,943.9 L615.5,943.8 L616.0,943.8 L616.5,943.7 L617.0,943.7 L617.5,943.6 L618.0,943.5 L618.5,943.5 L619.0,943.4 L619.5,943.3 L620.0,943.3 L620.5,943.2 L621.0,943.1 L621.5,943.0 L622.0,943.0 L622.5,942.9 L623.0,942.8 L623.5,942.8 L624.0,942.7 L624.5,942.6 L625.0,942.5 L625.5,942.4 L626.0,942.4 L626.5,942.3 L627.0,942.2 L627.5,942.1 L628.0,942.0 L628.5,941.9 L629.0,941.8 L629.5,941.8 L630.0,941.7 L630.5,941.6 L631.0,941.5 L631.5,941.4 L632.0,941.3 L632.5,941.2 L633.0,941.1 L633.5,941.0 L634.0,940.9 L634.5,940.8 L635.0,940.7 L635.5,940.6 L636.0,940.4 L636.5,940.3 L637.0,940.2 L637.5,940.1 L638.0,940.0 L638.5,939.9 L639.0,939.8 L639.5,939.6 L640.0,939.5 L640.5,939.4 L641.0,939.3 L641.5,939.1 L642.0,939.0 L642.5,938.9 L643.0,938.7 L643.5,938.6 L644.0,938.5 L644.5,938.3 L645.0,938.2 L645.5,938.0 L646.0,937.9 L646.5,937.8 L647.0,937.6 L647.5,937.5 L648.0,937.3 L648.5,937.2 L649.0,937.0 L649.5,936.8 L650.0,936.7 L650.5,936.5 L651.0,936.4 L651.5,936.2 L652.0,936.0 L652.5,935.9 L653.0,935.7 L653.5,935.5 L654.0,935.3 L654.5,935.2 L655.0,935.0 L655.5,934.8 L656.0,934.6 L656.5,934.4 L657.0,934.2 L657.5,934.0 L658.0,933.9 L658.5,933.7 L659.0,933.5 L659.5,933.3 L660.0,933.1 L660.5,932.9 L661.0,932.6 L661.5,932.4 L662.0,932.2 L662.5,932.0 L663.0,931.8 L663.5,931.6 L664.0,931.4 L664.5,931.1 L665.0,930.9 L665.5,930.7 L666.0,930.4 L666.5,930.2 L667.0,930.0 L667.5,929.7 L668.0,929.5 L668.5,929.2 L669.0,929.0 L669.5,928.7 L670.0,928.5 L670.5,928.2 L671.0,928.0 L671.5,927.7 L672.0,927.5 L672.5,927.2 L673.0,926.9 L673.5,926.6 L674.0,926.4 L674.5,926.1 L675.0,925.8 L675.5,925.5 L676.0,925.3 L676.5,925.0 L677.0,924.7 L677.5,924.4 L678.0,924.1 L678.5,923.8 L679.0,923.5 L679.5,923.2 L680.0,922.9 L680.5,922.6 L681.0,922.2 L681.5,921.9 L682.0,921.6 L682.5,921.3 L683.0,921.0 L683.5,920.6 L684.0,920.3 L684.5,920.0 L685.0,919.6 L685.5,919.3 L686.0,919.0 L686.5,918.6 L687.0,918.3 L687.5,917.9 L688.0,917.6 L688.5,917.2 L689.0,916.8 L689.5,916.5 L690.0,916.1 L690.5,915.7 L691.0,915.4 L691.5,915.0 L692.0,914.6 L692.5,914.2 L693.0,913.9 L693.5,913.5 L694.0,913.1 L694.5,912.7 L695.0,912.3 L695.5,911.9 L696.0,911.5 L696.5,911.1 L697.0,910.7 L697.5,910.3 L698.0,909.9 L698.5,909.4 L699.0,909.0 L699.5,908.6 L700.0,908.2 L700.5,907.7 L701.0,907.3 L701.5,906.9 L702.0,906.4 L702.5,906.0 L703.0,905.6 L703.5,905.1 L704.0,904.7 L704.5,904.2 L705.0,903.8 L705.5,903.3 L706.0,902.8 L706.5,902.4 L707.0,901.9 L707.5,901.5 L708.0,901.0 L708.5,900.5 L709.0,900.0 L709.5,899.6 L710.0,899.1 L710.5,898.6 L711.0,898.1 L711.5,897.6 L712.0,897.1 L712.5,896.6 L713.0,896.1 L713.5,895.6 L714.0,895.1 L714.5,894.6 L715.0,894.1 L715.5,893.6 L716.0,893.1 L716.5,892.6 L717.0,892.1 L717.5,891.5 L718.0,891.0 L718.5,890.5 L719.0,890.0 L719.5,889.4 L720.0,888.9 L720.5,888.4 L721.0,887.8 L721.5,887.3 L722.0,886.8 L722.5,886.2 L723.0,885.7 L723.5,885.1 L724.0,884.6 L724.5,884.0 L725.0,883.5 L725.5,882.9 L726.0,882.4 L726.5,881.8 L727.0,881.3 L727.5,880.7 L728.0,880.1 L728.5,879.6 L729.0,879.0 L729.5,878.4 L730.0,877.9 L730.5,877.3 L731.0,876.7 L731.5,876.1 L732.0,875.6 L732.5,875.0 L733.0,874.4 L733.5,873.8 L734.0,873.2 L734.5,872.7 L735.0,872.1 L735.5,871.5 L736.0,870.9 L736.5,870.3 L737.0,869.7 L737.5,869.2 L738.0,868.6 L738.5,868.0 L739.0,867.4 L739.5,866.8 L740.0,866.2 L740.5,865.6 L741.0,865.0 L741.5,864.4 L742.0,863.8 L742.5,863.2 L743.0,862.6 L743.5,862.0 L744.0,861.4 L744.5,860.8 L745.0,860.2 L745.5,859.6 L746.0,859.0 L746.5,858.4 L747.0,857.8 L747.5,857.3 L748.0,856.7 L748.5,856.1 L749.0,855.5 L749.5,854.9 L750.0,854.3 L750.5,853.7 L751.0,853.1 L751.5,852.5 L752.0,851.9 L752.5,851.3 L753.0,850.7 L753.5,850.1 L754.0,849.5 L754.5,848.9 L755.0,848.3 L755.5,847.7 L756.0,847.2 L756.5,846.6 L757.0,846.0 L757.5,845.4 L758.0,844.8 L758.5,844.2 L759.0,843.7 L759.5,843.1 L760.0,842.5 L760.5,841.9 L761.0,841.3 L761.5,840.8 L762.0,840.2 L762.5,839.6 L763.0,839.1 L763.5,838.5 L764.0,837.9 L764.5,837.4 L765.0,836.8 L765.5,836.3 L766.0,835.7 L766.5,835.2 L767.0,834.6 L767.5,834.1 L768.0,833.5 L768.5,833.0 L769.0,832.4 L769.5,831.9 L770.0,831.4 L770.5,830.8 L771.0,830.3 L771.5,829.8 L772.0,829.3 L772.5,828.7 L773.0,828.2 L773.5,827.7 L774.0,827.2 L774.5,826.7 L775.0,826.2 L775.5,825.7 L776.0,825.2 L776.5,824.7 L777.0,824.2 L777.5,823.7 L778.0,823.2 L778.5,822.8 L779.0,822.3 L779.5,821.8 L780.0,821.3 L780.5,820.9 L781.0,820.4 L781.5,820.0 L782.0,819.5 L782.5,819.1 L783.0,818.6 L783.5,818.2 L784.0,817.8 L784.5,817.3 L785.0,816.9 L785.5,816.5 L786.0,816.1 L786.5,815.7 L787.0,815.3 L787.5,814.9 L788.0,814.5 L788.5,814.1 L789.0,813.7 L789.5,813.3 L790.0,812.9 L790.5,812.6 L791.0,812.2 L791.5,811.8 L792.0,811.5 L792.5,811.1 L793.0,810.8 L793.5,810.4 L794.0,810.1 L794.5,809.8 L795.0,809.5 L795.5,809.1 L796.0,808.8 L796.5,808.5 L797.0,808.2 L797.5,807.9 L798.0,807.6 L798.5,807.4 L799.0,807.1 L799.5,806.8 L800.0,806.5 L800.5,806.3 L801.0,806.0 L801.5,805.8 L802.0,805.5 L802.5,805.3 L803.0,805.1 L803.5,804.8 L804.0,804.6 L804.5,804.4 L805.0,804.2 L805.5,804.0 L806.0,803.8 L806.5,803.6 L807.0,803.4 L807.5,803.3 L808.0,803.1 L808.5,802.9 L809.0,802.8 L809.5,802.6 L810.0,802.5 L810.5,802.3 L811.0,802.2 L811.5,802.1 L812.0,802.0 L812.5,801.9 L813.0,801.8 L813.5,801.7 L814.0,801.6 L814.5,801.5 L815.0,801.4 L815.5,801.3 L816.0,801.3 L816.5,801.2 L817.0,801.2 L817.5,801.1 L818.0,801.1 L818.5,801.1 L819.0,801.0 L819.5,801.0 L820.0,801.0 L820.5,801.0" fill="none" stroke="#4a4a4a" stroke-width="4.6" stroke-linecap="round" stroke-dasharray="0 24.25" stroke-dashoffset="20.45"/>
<path d="M820.6,801.0 L821.1,801.0 L821.6,801.0 L822.1,801.0 L822.6,801.1 L823.1,801.1 L823.6,801.1 L824.1,801.2 L824.6,801.2 L825.1,801.3 L825.6,801.3 L826.1,801.4 L826.6,801.5 L827.1,801.6 L827.6,801.7 L828.1,801.8 L828.6,801.9 L829.1,802.0 L829.6,802.1 L830.1,802.2 L830.6,802.3 L831.1,802.5 L831.6,802.6 L832.1,802.8 L832.6,802.9 L833.1,803.1 L833.6,803.2 L834.1,803.4 L834.6,803.6 L835.1,803.8 L835.6,804.0 L836.1,804.2 L836.6,804.4 L837.1,804.6 L837.6,804.8 L838.1,805.0 L838.6,805.3 L839.1,805.5 L839.6,805.8 L840.1,806.0 L840.6,806.3 L841.1,806.5 L841.6,806.8 L842.1,807.1 L842.6,807.3 L843.1,807.6 L843.6,807.9 L844.1,808.2 L844.6,808.5 L845.1,808.8 L845.6,809.1 L846.1,809.5 L846.6,809.8 L847.1,810.1 L847.6,810.5 L848.1,810.8 L848.6,811.1 L849.1,811.5 L849.6,811.8 L850.1,812.2 L850.6,812.6 L851.1,813.0 L851.6,813.3 L852.1,813.7 L852.6,814.1 L853.1,814.5 L853.6,814.9 L854.1,815.3 L854.6,815.7 L855.1,816.1 L855.6,816.5 L856.1,817.0 L856.6,817.4 L857.1,817.8 L857.6,818.2 L858.1,818.7 L858.6,819.1 L859.1,819.6 L859.6,820.0 L860.1,820.5 L860.6,820.9 L861.1,821.4 L861.6,821.9 L862.1,822.4 L862.6,822.8 L863.1,823.3 L863.6,823.8 L864.1,824.3 L864.6,824.8 L865.1,825.3 L865.6,825.8 L866.1,826.3 L866.6,826.8 L867.1,827.3 L867.6,827.8 L868.1,828.3 L868.6,828.8 L869.1,829.4 L869.6,829.9 L870.1,830.4 L870.6,830.9 L871.1,831.5 L871.6,832.0 L872.1,832.6 L872.6,833.1 L873.1,833.6 L873.6,834.2 L874.1,834.7 L874.6,835.3 L875.1,835.8 L875.6,836.4 L876.1,837.0 L876.6,837.5 L877.1,838.1 L877.6,838.7 L878.1,839.2 L878.6,839.8 L879.1,840.4 L879.6,840.9 L880.1,841.5 L880.6,842.1 L881.1,842.7 L881.6,843.2 L882.1,843.8 L882.6,844.4 L883.1,845.0 L883.6,845.6 L884.1,846.2 L884.6,846.8 L885.1,847.3 L885.6,847.9 L886.1,848.5 L886.6,849.1 L887.1,849.7 L887.6,850.3 L888.1,850.9 L888.6,851.5 L889.1,852.1 L889.6,852.7 L890.1,853.3 L890.6,853.9 L891.1,854.5 L891.6,855.1 L892.1,855.7 L892.6,856.3 L893.1,856.9 L893.6,857.5 L894.1,858.1 L894.6,858.7 L895.1,859.3 L895.6,859.9 L896.1,860.5 L896.6,861.1 L897.1,861.7 L897.6,862.3 L898.1,862.9 L898.6,863.5 L899.1,864.1 L899.6,864.7 L900.1,865.3 L900.6,865.9 L901.1,866.5 L901.6,867.1 L902.1,867.7 L902.6,868.2 L903.1,868.8 L903.6,869.4 L904.1,870.0 L904.6,870.6 L905.1,871.2 L905.6,871.8 L906.1,872.4 L906.6,873.0 L907.1,873.5 L907.6,874.1 L908.1,874.7 L908.6,875.3 L909.1,875.9 L909.6,876.4 L910.1,877.0 L910.6,877.6 L911.1,878.2 L911.6,878.7 L912.1,879.3 L912.6,879.9 L913.1,880.4 L913.6,881.0 L914.1,881.6 L914.6,882.1 L915.1,882.7 L915.6,883.2 L916.1,883.8 L916.6,884.4 L917.1,884.9 L917.6,885.5 L918.1,886.0 L918.6,886.5 L919.1,887.1 L919.6,887.6 L920.1,888.2 L920.6,888.7 L921.1,889.2 L921.6,889.8 L922.1,890.3 L922.6,890.8 L923.1,891.3 L923.6,891.9 L924.1,892.4 L924.6,892.9 L925.1,893.4 L925.6,893.9 L926.1,894.4 L926.6,895.0 L927.1,895.5 L927.6,896.0 L928.1,896.5 L928.6,897.0 L929.1,897.5 L929.6,897.9 L930.1,898.4 L930.6,898.9 L931.1,899.4 L931.6,899.9 L932.1,900.4 L932.6,900.8 L933.1,901.3 L933.6,901.8 L934.1,902.3 L934.6,902.7 L935.1,903.2 L935.6,903.6 L936.1,904.1 L936.6,904.6 L937.1,905.0 L937.6,905.4 L938.1,905.9 L938.6,906.3 L939.1,906.8 L939.6,907.2 L940.1,907.6 L940.6,908.1 L941.1,908.5 L941.6,908.9 L942.1,909.3 L942.6,909.8 L943.1,910.2 L943.6,910.6 L944.1,911.0 L944.6,911.4 L945.1,911.8 L945.6,912.2 L946.1,912.6 L946.6,913.0 L947.1,913.4 L947.6,913.8 L948.1,914.2 L948.6,914.6 L949.1,914.9 L949.6,915.3 L950.1,915.7 L950.6,916.1 L951.1,916.4 L951.6,916.8 L952.1,917.2 L952.6,917.5 L953.1,917.9 L953.6,918.2 L954.1,918.6 L954.6,918.9 L955.1,919.3 L955.6,919.6 L956.1,919.9 L956.6,920.3 L957.1,920.6 L957.6,920.9 L958.1,921.3 L958.6,921.6 L959.1,921.9 L959.6,922.2 L960.1,922.5 L960.6,922.9 L961.1,923.2 L961.6,923.5 L962.1,923.8 L962.6,924.1 L963.1,924.4 L963.6,924.7 L964.1,925.0 L964.6,925.2 L965.1,925.5 L965.6,925.8 L966.1,926.1 L966.6,926.4 L967.1,926.6 L967.6,926.9 L968.1,927.2 L968.6,927.5 L969.1,927.7 L969.6,928.0 L970.1,928.2 L970.6,928.5 L971.1,928.7 L971.6,929.0 L972.1,929.2 L972.6,929.5 L973.1,929.7 L973.6,930.0 L974.1,930.2 L974.6,930.4 L975.1,930.7 L975.6,930.9 L976.1,931.1 L976.6,931.4 L977.1,931.6 L977.6,931.8 L978.1,932.0 L978.6,932.2 L979.1,932.5 L979.6,932.7 L980.1,932.9 L980.6,933.1 L981.1,933.3 L981.6,933.5 L982.1,933.7 L982.6,933.9 L983.1,934.1 L983.6,934.3 L984.1,934.5 L984.6,934.6 L985.1,934.8 L985.6,935.0 L986.1,935.2 L986.6,935.4 L987.1,935.5 L987.6,935.7 L988.1,935.9 L988.6,936.1 L989.1,936.2 L989.6,936.4 L990.1,936.6 L990.6,936.7 L991.1,936.9 L991.6,937.0 L992.1,937.2 L992.6,937.3 L993.1,937.5 L993.6,937.6 L994.1,937.8 L994.6,937.9 L995.1,938.1 L995.6,938.2 L996.1,938.4 L996.6,938.5 L997.1,938.6 L997.6,938.8 L998.1,938.9 L998.6,939.0 L999.1,939.2 L999.6,939.3 L1000.1,939.4 L1000.6,939.5 L1001.1,939.7 L1001.6,939.8 L1002.1,939.9 L1002.6,940.0 L1003.1,940.1 L1003.6,940.3 L1004.1,940.4 L1004.6,940.5 L1005.1,940.6 L1005.6,940.7 L1006.1,940.8 L1006.6,940.9 L1007.1,941.0 L1007.6,941.1 L1008.1,941.2 L1008.6,941.3 L1009.1,941.4 L1009.6,941.5 L1010.1,941.6 L1010.6,941.7 L1011.1,941.8 L1011.6,941.9 L1012.1,942.0 L1012.6,942.1 L1013.1,942.1 L1013.6,942.2 L1014.1,942.3 L1014.6,942.4 L1015.1,942.5 L1015.6,942.6 L1016.1,942.6 L1016.6,942.7 L1017.1,942.8 L1017.6,942.9 L1018.1,942.9 L1018.6,943.0 L1019.1,943.1 L1019.6,943.1 L1020.1,943.2 L1020.6,943.3 L1021.1,943.4 L1021.6,943.4 L1022.1,943.5 L1022.6,943.6 L1023.1,943.6 L1023.6,943.7 L1024.1,943.7 L1024.6,943.8 L1025.1,943.9 L1025.6,943.9 L1026.1,944.0 L1026.6,944.0 L1027.1,944.1 L1027.6,944.1 L1028.1,944.2 L1028.6,944.2 L1029.1,944.3 L1029.6,944.4 L1030.1,944.4 L1030.6,944.5 L1031.1,944.5 L1031.6,944.5 L1032.1,944.6 L1032.6,944.6 L1033.1,944.7 L1033.6,944.7 L1034.1,944.8 L1034.6,944.8 L1035.1,944.9 L1035.6,944.9 L1036.1,944.9 L1036.6,945.0 L1037.1,945.0 L1037.6,945.1 L1038.1,945.1 L1038.6,945.1 L1039.1,945.2 L1039.6,945.2 L1040.1,945.2 L1040.6,945.3 L1041.1,945.3 L1041.6,945.4 L1042.1,945.4 L1042.6,945.4 L1043.1,945.4 L1043.6,945.5 L1044.1,945.5 L1044.6,945.5 L1045.1,945.6 L1045.6,945.6 L1046.1,945.6 L1046.6,945.7 L1047.1,945.7 L1047.6,945.7 L1048.1,945.7 L1048.6,945.8 L1049.1,945.8 L1049.6,945.8 L1050.1,945.8 L1050.6,945.9 L1051.1,945.9 L1051.6,945.9 L1052.1,945.9 L1052.6,946.0 L1053.1,946.0 L1053.6,946.0 L1054.1,946.0 L1054.6,946.0 L1055.1,946.1 L1055.6,946.1 L1056.1,946.1 L1056.6,946.1 L1057.1,946.1 L1057.6,946.2 L1058.1,946.2 L1058.6,946.2 L1059.1,946.2 L1059.6,946.2 L1060.1,946.2 L1060.6,946.3 L1061.1,946.3 L1061.6,946.3 L1062.1,946.3 L1062.6,946.3 L1063.1,946.3 L1063.6,946.4 L1064.1,946.4 L1064.6,946.4 L1065.1,946.4 L1065.6,946.4 L1066.1,946.4 L1066.6,946.4 L1067.1,946.4 L1067.6,946.5 L1068.1,946.5 L1068.6,946.5 L1069.1,946.5 L1069.6,946.5 L1070.1,946.5 L1070.6,946.5 L1071.1,946.5 L1071.6,946.6 L1072.1,946.6 L1072.6,946.6 L1073.1,946.6 L1073.6,946.6 L1074.1,946.6 L1074.6,946.6 L1075.1,946.6 L1075.6,946.6 L1076.1,946.6 L1076.6,946.6 L1077.1,946.7 L1077.6,946.7 L1078.1,946.7 L1078.6,946.7 L1079.1,946.7 L1079.6,946.7 L1080.1,946.7 L1080.6,946.7 L1081.1,946.7 L1081.6,946.7 L1082.1,946.7 L1082.6,946.7 L1083.1,946.7 L1083.6,946.7 L1084.1,946.8 L1084.6,946.8 L1085.1,946.8 L1085.6,946.8 L1086.1,946.8 L1086.6,946.8 L1087.1,946.8 L1087.6,946.8 L1088.1,946.8 L1088.6,946.8 L1089.1,946.8 L1089.6,946.8 L1090.1,946.8 L1090.6,946.8 L1091.1,946.8 L1091.6,946.8 L1092.1,946.8 L1092.6,946.8 L1093.1,946.8 L1093.6,946.8 L1094.1,946.8 L1094.6,946.9 L1095.1,946.9 L1095.6,946.9 L1096.1,946.9 L1096.6,946.9 L1097.1,946.9 L1097.6,946.9 L1098.1,946.9 L1098.6,946.9 L1099.1,946.9 L1099.6,946.9 L1100.1,946.9 L1100.6,946.9 L1101.1,946.9 L1101.6,946.9 L1102.1,946.9 L1102.6,946.9 L1103.1,946.9 L1103.6,946.9 L1104.1,946.9 L1104.6,946.9 L1105.1,946.9 L1105.6,946.9 L1106.1,946.9 L1106.6,946.9 L1107.1,946.9 L1107.6,946.9 L1108.1,946.9 L1108.6,946.9 L1109.1,946.9 L1109.6,946.9 L1110.1,946.9 L1110.6,946.9 L1111.1,946.9 L1111.6,946.9 L1112.1,946.9 L1112.6,946.9 L1113.1,946.9 L1113.6,946.9 L1114.1,946.9 L1114.6,946.9 L1115.1,946.9 L1115.6,947.0 L1116.1,947.0 L1116.6,947.0 L1117.1,947.0 L1117.6,947.0 L1118.1,947.0 L1118.6,947.0 L1119.1,947.0 L1119.6,947.0 L1120.1,947.0 L1120.6,947.0 L1121.1,947.0 L1121.6,947.0 L1122.1,947.0 L1122.6,947.0 L1123.1,947.0 L1123.6,947.0 L1124.1,947.0 L1124.6,947.0 L1125.1,947.0 L1125.6,947.0 L1126.1,947.0 L1126.6,947.0 L1127.1,947.0 L1127.6,947.0 L1128.1,947.0 L1128.6,947.0 L1129.1,947.0 L1129.6,947.0 L1130.1,947.0 L1130.6,947.0 L1131.1,947.0 L1131.6,947.0 L1132.1,947.0 L1132.6,947.0 L1133.1,947.0 L1133.6,947.0 L1134.1,947.0 L1134.6,947.0 L1135.1,947.0 L1135.6,947.0 L1136.1,947.0 L1136.6,947.0 L1137.1,947.0 L1137.6,947.0 L1138.1,947.0 L1138.6,947.0 L1139.1,947.0 L1139.6,947.0 L1140.1,947.0 L1140.6,947.0 L1141.1,947.0 L1141.6,947.0 L1142.1,947.0 L1142.6,947.0 L1143.1,947.0 L1143.6,947.0 L1144.1,947.0 L1144.6,947.0 L1145.1,947.0 L1145.6,947.0 L1146.1,947.0 L1146.6,947.0 L1147.1,947.0 L1147.6,947.0 L1148.1,947.0 L1148.6,947.0 L1149.1,947.0 L1149.6,947.0 L1150.1,947.0 L1150.6,947.0 L1151.1,947.0 L1151.6,947.0 L1152.1,947.0 L1152.6,947.0 L1153.1,947.0 L1153.6,947.0 L1154.1,947.0 L1154.6,947.0 L1155.1,947.0 L1155.6,947.0 L1156.1,947.0 L1156.6,947.0 L1157.1,947.0 L1157.6,947.0 L1158.1,947.0 L1158.6,947.0 L1159.1,947.0 L1159.6,947.0 L1160.1,947.0 L1160.6,947.0 L1161.1,947.0 L1161.6,947.0 L1162.1,947.0 L1162.6,947.0 L1163.1,947.0 L1163.6,947.0 L1164.1,947.0 L1164.6,947.0 L1165.1,947.0 L1165.6,947.0 L1166.1,947.0 L1166.6,947.0 L1167.1,947.0 L1167.6,947.0 L1168.1,947.0 L1168.6,947.0 L1169.1,947.0 L1169.6,947.0 L1170.1,947.0 L1170.6,947.0 L1171.1,947.0 L1171.6,947.0 L1172.1,947.0 L1172.6,947.0 L1173.1,947.0 L1173.6,947.0 L1174.1,947.0 L1174.6,947.0 L1175.1,947.0 L1175.6,947.0 L1176.1,947.0 L1176.6,947.0 L1177.1,947.0 L1177.6,947.0 L1178.1,947.0 L1178.6,947.0 L1179.1,947.0 L1179.6,947.0 L1180.1,947.0 L1180.6,947.0 L1181.1,947.0 L1181.6,947.0 L1182.1,947.0 L1182.6,947.0 L1183.1,947.0 L1183.6,947.0 L1184.1,947.0 L1184.6,947.0 L1185.1,947.0 L1185.6,947.0 L1186.1,947.0 L1186.6,947.0 L1187.1,947.0 L1187.6,947.0 L1188.1,947.0 L1188.6,947.0 L1189.1,947.0 L1189.6,947.0 L1190.1,947.0 L1190.6,947.0 L1191.1,947.0 L1191.6,947.0 L1192.1,947.0 L1192.6,947.0 L1193.1,947.0 L1193.6,947.0 L1194.1,947.0 L1194.6,947.0 L1195.1,947.0 L1195.6,947.0 L1196.1,947.0 L1196.6,947.0 L1197.1,947.0 L1197.6,947.0 L1198.1,947.0 L1198.6,947.0 L1199.1,947.0 L1199.6,947.0 L1200.1,947.0 L1200.6,947.0 L1201.1,947.0 L1201.6,947.0 L1202.1,947.0 L1202.6,947.0 L1203.1,947.0 L1203.6,947.0 L1204.1,947.0 L1204.6,947.0 L1205.1,947.0 L1205.6,947.0 L1206.1,947.0 L1206.6,947.0 L1207.1,947.0 L1207.6,947.0 L1208.1,947.0 L1208.6,947.0 L1209.1,947.0 L1209.6,947.0 L1210.1,947.0 L1210.6,947.0 L1211.1,947.0 L1211.6,947.0 L1212.1,947.0 L1212.6,947.0 L1213.1,947.0 L1213.6,947.0 L1214.1,947.0 L1214.6,947.0 L1215.1,947.0 L1215.6,947.0 L1216.1,947.0 L1216.6,947.0 L1217.1,947.0 L1217.6,947.0 L1218.1,947.0 L1218.6,947.0 L1219.1,947.0 L1219.6,947.0 L1220.1,947.0 L1220.6,947.0 L1221.1,947.0 L1221.6,947.0 L1222.1,947.0 L1222.6,947.0 L1223.1,947.0 L1223.6,947.0 L1224.1,947.0 L1224.6,947.0 L1225.1,947.0 L1225.6,947.0 L1226.1,947.0 L1226.6,947.0 L1227.1,947.0 L1227.6,947.0 L1228.1,947.0 L1228.6,947.0 L1229.1,947.0 L1229.6,947.0 L1230.1,947.0 L1230.6,947.0 L1231.1,947.0 L1231.6,947.0 L1232.1,947.0 L1232.6,947.0 L1233.1,947.0 L1233.6,947.0 L1234.1,947.0 L1234.6,947.0 L1235.1,947.0 L1235.6,947.0 L1236.1,947.0 L1236.6,947.0 L1237.1,947.0 L1237.6,947.0 L1238.1,947.0 L1238.6,947.0 L1239.1,947.0 L1239.6,947.0 L1240.1,947.0 L1240.6,947.0 L1241.1,947.0 L1241.6,947.0 L1242.1,947.0 L1242.6,947.0 L1243.1,947.0 L1243.6,947.0 L1244.1,947.0 L1244.6,947.0 L1245.1,947.0 L1245.6,947.0 L1246.1,947.0 L1246.6,947.0 L1247.1,947.0 L1247.6,947.0 L1248.1,947.0 L1248.6,947.0 L1249.1,947.0 L1249.6,947.0 L1250.1,947.0 L1250.6,947.0 L1251.1,947.0 L1251.6,947.0 L1252.1,947.0 L1252.6,947.0" fill="none" stroke="#4a4a4a" stroke-width="4.6" stroke-linecap="round" stroke-dasharray="0 24.35" stroke-dashoffset="1.27"/>
<path d="M587.0,944.9 L587.5,944.9 L588.0,944.9 L588.5,944.9 L589.0,944.9 L589.5,944.8 L590.0,944.8 L590.5,944.8 L591.0,944.8 L591.5,944.8 L592.0,944.7 L592.5,944.7 L593.0,944.7 L593.5,944.7 L594.0,944.7 L594.5,944.6 L595.0,944.6 L595.5,944.6 L596.0,944.6 L596.5,944.6 L597.0,944.5 L597.5,944.5 L598.0,944.5 L598.5,944.5 L599.0,944.4 L599.5,944.4 L600.0,944.4 L600.5,944.4 L601.0,944.4 L601.5,944.3 L602.0,944.3 L602.5,944.3 L603.0,944.3 L603.5,944.2 L604.0,944.2 L604.5,944.2 L605.0,944.2 L605.5,944.1 L606.0,944.1 L606.5,944.1 L607.0,944.1 L607.5,944.0 L608.0,944.0 L608.5,944.0 L609.0,944.0 L609.5,943.9 L610.0,943.9 L610.5,943.9 L611.0,943.8 L611.5,943.8 L612.0,943.8 L612.5,943.8 L613.0,943.7 L613.5,943.7 L614.0,943.7 L614.5,943.7 L615.0,943.6 L615.5,943.6 L616.0,943.6 L616.5,943.5 L617.0,943.5 L617.5,943.5 L618.0,943.4 L618.5,943.4 L619.0,943.4 L619.5,943.4 L620.0,943.3 L620.5,943.3 L621.0,943.3 L621.5,943.2 L622.0,943.2 L622.5,943.2 L623.0,943.1 L623.5,943.1 L624.0,943.1 L624.5,943.0 L625.0,943.0 L625.5,943.0 L626.0,942.9 L626.5,942.9 L627.0,942.9 L627.5,942.8 L628.0,942.8 L628.5,942.8 L629.0,942.7 L629.5,942.7 L630.0,942.7 L630.5,942.6 L631.0,942.6 L631.5,942.6 L632.0,942.5 L632.5,942.5 L633.0,942.4 L633.5,942.4 L634.0,942.4 L634.5,942.3 L635.0,942.3 L635.5,942.3 L636.0,942.2 L636.5,942.2 L637.0,942.1 L637.5,942.1 L638.0,942.1 L638.5,942.0 L639.0,942.0 L639.5,941.9 L640.0,941.9 L640.5,941.9 L641.0,941.8 L641.5,941.8 L642.0,941.7 L642.5,941.7 L643.0,941.7 L643.5,941.6 L644.0,941.6 L644.5,941.5 L645.0,941.5 L645.5,941.4 L646.0,941.4 L646.5,941.3 L647.0,941.3 L647.5,941.3 L648.0,941.2 L648.5,941.2 L649.0,941.1 L649.5,941.1 L650.0,941.0 L650.5,941.0 L651.0,940.9 L651.5,940.9 L652.0,940.8 L652.5,940.8 L653.0,940.8 L653.5,940.7 L654.0,940.7 L654.5,940.6 L655.0,940.6 L655.5,940.5 L656.0,940.5 L656.5,940.4 L657.0,940.4 L657.5,940.3 L658.0,940.3 L658.5,940.2 L659.0,940.2 L659.5,940.1 L660.0,940.0 L660.5,940.0 L661.0,939.9 L661.5,939.9 L662.0,939.8 L662.5,939.8 L663.0,939.7 L663.5,939.7 L664.0,939.6 L664.5,939.6 L665.0,939.5 L665.5,939.5 L666.0,939.4 L666.5,939.3 L667.0,939.3 L667.5,939.2 L668.0,939.2 L668.5,939.1 L669.0,939.1 L669.5,939.0 L670.0,938.9 L670.5,938.9 L671.0,938.8 L671.5,938.8 L672.0,938.7 L672.5,938.6 L673.0,938.6 L673.5,938.5 L674.0,938.5 L674.5,938.4 L675.0,938.3 L675.5,938.3 L676.0,938.2 L676.5,938.2 L677.0,938.1 L677.5,938.0 L678.0,938.0 L678.5,937.9 L679.0,937.8 L679.5,937.8 L680.0,937.7 L680.5,937.6 L681.0,937.6 L681.5,937.5 L682.0,937.4 L682.5,937.4 L683.0,937.3 L683.5,937.2 L684.0,937.2 L684.5,937.1 L685.0,937.0 L685.5,937.0 L686.0,936.9 L686.5,936.8 L687.0,936.7 L687.5,936.7 L688.0,936.6 L688.5,936.5 L689.0,936.5 L689.5,936.4 L690.0,936.3 L690.5,936.2 L691.0,936.2 L691.5,936.1 L692.0,936.0 L692.5,936.0 L693.0,935.9 L693.5,935.8 L694.0,935.7 L694.5,935.6 L695.0,935.6 L695.5,935.5 L696.0,935.4 L696.5,935.3 L697.0,935.3 L697.5,935.2 L698.0,935.1 L698.5,935.0 L699.0,934.9 L699.5,934.9 L700.0,934.8 L700.5,934.7 L701.0,934.6 L701.5,934.5 L702.0,934.5 L702.5,934.4 L703.0,934.3 L703.5,934.2 L704.0,934.1 L704.5,934.0 L705.0,934.0 L705.5,933.9 L706.0,933.8 L706.5,933.7 L707.0,933.6 L707.5,933.5 L708.0,933.5 L708.5,933.4 L709.0,933.3 L709.5,933.2 L710.0,933.1 L710.5,933.0 L711.0,932.9 L711.5,932.8 L712.0,932.7 L712.5,932.7 L713.0,932.6 L713.5,932.5 L714.0,932.4 L714.5,932.3 L715.0,932.2 L715.5,932.1 L716.0,932.0 L716.5,931.9 L717.0,931.8 L717.5,931.7 L718.0,931.6 L718.5,931.5 L719.0,931.4 L719.5,931.4 L720.0,931.3 L720.5,931.2 L721.0,931.1 L721.5,931.0 L722.0,930.9 L722.5,930.8 L723.0,930.7 L723.5,930.6 L724.0,930.5 L724.5,930.4 L725.0,930.3 L725.5,930.2 L726.0,930.1 L726.5,930.0 L727.0,929.9 L727.5,929.8 L728.0,929.7 L728.5,929.6 L729.0,929.5 L729.5,929.4 L730.0,929.3 L730.5,929.1 L731.0,929.0 L731.5,928.9 L732.0,928.8 L732.5,928.7 L733.0,928.6 L733.5,928.5 L734.0,928.4 L734.5,928.3 L735.0,928.2 L735.5,928.1 L736.0,928.0 L736.5,927.9 L737.0,927.7 L737.5,927.6 L738.0,927.5 L738.5,927.4 L739.0,927.3 L739.5,927.2 L740.0,927.1 L740.5,927.0 L741.0,926.9 L741.5,926.7 L742.0,926.6 L742.5,926.5 L743.0,926.4 L743.5,926.3 L744.0,926.2 L744.5,926.1 L745.0,925.9 L745.5,925.8 L746.0,925.7 L746.5,925.6 L747.0,925.5 L747.5,925.4 L748.0,925.2 L748.5,925.1 L749.0,925.0 L749.5,924.9 L750.0,924.8 L750.5,924.6 L751.0,924.5 L751.5,924.4 L752.0,924.3 L752.5,924.2 L753.0,924.0 L753.5,923.9 L754.0,923.8 L754.5,923.7 L755.0,923.5 L755.5,923.4 L756.0,923.3 L756.5,923.2 L757.0,923.0 L757.5,922.9 L758.0,922.8 L758.5,922.7 L759.0,922.5 L759.5,922.4 L760.0,922.3 L760.5,922.1 L761.0,922.0 L761.5,921.9 L762.0,921.8 L762.5,921.6 L763.0,921.5 L763.5,921.4 L764.0,921.2 L764.5,921.1 L765.0,921.0 L765.5,920.9 L766.0,920.7 L766.5,920.6 L767.0,920.5 L767.5,920.3 L768.0,920.2 L768.5,920.1 L769.0,919.9 L769.5,919.8 L770.0,919.7 L770.5,919.5 L771.0,919.4 L771.5,919.2 L772.0,919.1 L772.5,919.0 L773.0,918.8 L773.5,918.7 L774.0,918.6 L774.5,918.4 L775.0,918.3 L775.5,918.2 L776.0,918.0 L776.5,917.9 L777.0,917.7 L777.5,917.6 L778.0,917.5 L778.5,917.3 L779.0,917.2 L779.5,917.0 L780.0,916.9 L780.5,916.8 L781.0,916.6 L781.5,916.5 L782.0,916.3 L782.5,916.2 L783.0,916.0 L783.5,915.9 L784.0,915.8 L784.5,915.6 L785.0,915.5 L785.5,915.3 L786.0,915.2 L786.5,915.0 L787.0,914.9 L787.5,914.8 L788.0,914.6 L788.5,914.5 L789.0,914.3 L789.5,914.2 L790.0,914.0 L790.5,913.9 L791.0,913.7 L791.5,913.6 L792.0,913.4 L792.5,913.3 L793.0,913.1 L793.5,913.0 L794.0,912.8 L794.5,912.7 L795.0,912.6 L795.5,912.4 L796.0,912.3 L796.5,912.1 L797.0,912.0 L797.5,911.8 L798.0,911.7 L798.5,911.5 L799.0,911.4 L799.5,911.2 L800.0,911.1 L800.5,910.9 L801.0,910.8 L801.5,910.6 L802.0,910.5 L802.5,910.3 L803.0,910.1 L803.5,910.0 L804.0,909.8 L804.5,909.7 L805.0,909.5 L805.5,909.4 L806.0,909.2 L806.5,909.1 L807.0,908.9 L807.5,908.8 L808.0,908.6 L808.5,908.5 L809.0,908.3 L809.5,908.2 L810.0,908.0 L810.5,907.9 L811.0,907.7 L811.5,907.6 L812.0,907.4 L812.5,907.2 L813.0,907.1 L813.5,906.9 L814.0,906.8 L814.5,906.6 L815.0,906.5 L815.5,906.3 L816.0,906.2 L816.5,906.0 L817.0,905.9 L817.5,905.7 L818.0,905.5 L818.5,905.4 L819.0,905.2 L819.5,905.1 L820.0,904.9 L820.5,904.8 L821.0,904.6 L821.5,904.5 L822.0,904.3 L822.5,904.1 L823.0,904.0 L823.5,903.8 L824.0,903.7 L824.5,903.5 L825.0,903.4 L825.5,903.2 L826.0,903.1 L826.5,902.9 L827.0,902.7 L827.5,902.6 L828.0,902.4 L828.5,902.3 L829.0,902.1 L829.5,902.0 L830.0,901.8 L830.5,901.7 L831.0,901.5 L831.5,901.3 L832.0,901.2 L832.5,901.0 L833.0,900.9 L833.5,900.7 L834.0,900.6 L834.5,900.4 L835.0,900.3 L835.5,900.1 L836.0,900.0 L836.5,899.8 L837.0,899.6 L837.5,899.5 L838.0,899.3 L838.5,899.2 L839.0,899.0 L839.5,898.9 L840.0,898.7 L840.5,898.6 L841.0,898.4 L841.5,898.3 L842.0,898.1 L842.5,898.0 L843.0,897.8 L843.5,897.7 L844.0,897.5 L844.5,897.3 L845.0,897.2 L845.5,897.0 L846.0,896.9 L846.5,896.7 L847.0,896.6 L847.5,896.4 L848.0,896.3 L848.5,896.1 L849.0,896.0 L849.5,895.8 L850.0,895.7 L850.5,895.5 L851.0,895.4 L851.5,895.2 L852.0,895.1 L852.5,894.9 L853.0,894.8 L853.5,894.6 L854.0,894.5 L854.5,894.3 L855.0,894.2 L855.5,894.1 L856.0,893.9 L856.5,893.8 L857.0,893.6 L857.5,893.5 L858.0,893.3 L858.5,893.2 L859.0,893.0 L859.5,892.9 L860.0,892.7 L860.5,892.6 L861.0,892.5 L861.5,892.3 L862.0,892.2 L862.5,892.0 L863.0,891.9 L863.5,891.7 L864.0,891.6 L864.5,891.5 L865.0,891.3 L865.5,891.2 L866.0,891.0 L866.5,890.9 L867.0,890.8 L867.5,890.6 L868.0,890.5 L868.5,890.3 L869.0,890.2 L869.5,890.1 L870.0,889.9 L870.5,889.8 L871.0,889.7 L871.5,889.5 L872.0,889.4 L872.5,889.3 L873.0,889.1 L873.5,889.0 L874.0,888.9 L874.5,888.7 L875.0,888.6 L875.5,888.5 L876.0,888.3 L876.5,888.2 L877.0,888.1 L877.5,887.9 L878.0,887.8 L878.5,887.7 L879.0,887.5 L879.5,887.4 L880.0,887.3 L880.5,887.2 L881.0,887.0 L881.5,886.9 L882.0,886.8 L882.5,886.7 L883.0,886.5 L883.5,886.4 L884.0,886.3 L884.5,886.2 L885.0,886.1 L885.5,885.9 L886.0,885.8 L886.5,885.7 L887.0,885.6 L887.5,885.5 L888.0,885.3 L888.5,885.2 L889.0,885.1 L889.5,885.0 L890.0,884.9 L890.5,884.8 L891.0,884.6 L891.5,884.5 L892.0,884.4 L892.5,884.3 L893.0,884.2 L893.5,884.1 L894.0,884.0 L894.5,883.9 L895.0,883.8 L895.5,883.6 L896.0,883.5 L896.5,883.4 L897.0,883.3 L897.5,883.2 L898.0,883.1 L898.5,883.0 L899.0,882.9 L899.5,882.8 L900.0,882.7 L900.5,882.6 L901.0,882.5 L901.5,882.4 L902.0,882.3 L902.5,882.2 L903.0,882.1 L903.5,882.0 L904.0,881.9 L904.5,881.8 L905.0,881.7 L905.5,881.6 L906.0,881.6 L906.5,881.5 L907.0,881.4 L907.5,881.3 L908.0,881.2 L908.5,881.1 L909.0,881.0 L909.5,880.9 L910.0,880.8 L910.5,880.8 L911.0,880.7 L911.5,880.6 L912.0,880.5 L912.5,880.4 L913.0,880.4 L913.5,880.3 L914.0,880.2 L914.5,880.1 L915.0,880.0 L915.5,880.0 L916.0,879.9 L916.5,879.8 L917.0,879.7 L917.5,879.7 L918.0,879.6 L918.5,879.5 L919.0,879.5 L919.5,879.4 L920.0,879.3 L920.5,879.3 L921.0,879.2 L921.5,879.1 L922.0,879.1 L922.5,879.0 L923.0,878.9 L923.5,878.9 L924.0,878.8 L924.5,878.8 L925.0,878.7 L925.5,878.7 L926.0,878.6 L926.5,878.5 L927.0,878.5 L927.5,878.4 L928.0,878.4 L928.5,878.3 L929.0,878.3 L929.5,878.2 L930.0,878.2 L930.5,878.1 L931.0,878.1 L931.5,878.1 L932.0,878.0 L932.5,878.0 L933.0,877.9 L933.5,877.9 L934.0,877.9 L934.5,877.8 L935.0,877.8 L935.5,877.7 L936.0,877.7 L936.5,877.7 L937.0,877.6 L937.5,877.6 L938.0,877.6 L938.5,877.6 L939.0,877.5 L939.5,877.5 L940.0,877.5 L940.5,877.5 L941.0,877.4 L941.5,877.4 L942.0,877.4 L942.5,877.4 L943.0,877.4 L943.5,877.3 L944.0,877.3 L944.5,877.3 L945.0,877.3 L945.5,877.3 L946.0,877.3 L946.5,877.3 L947.0,877.3 L947.5,877.3 L948.0,877.3 L948.5,877.3 L949.0,877.3 L949.5,877.3 L950.0,877.3 L950.5,877.3 L951.0,877.3 L951.5,877.3 L952.0,877.3 L952.5,877.3 L953.0,877.3 L953.5,877.3 L954.0,877.3 L954.5,877.3 L955.0,877.3 L955.5,877.3 L956.0,877.3 L956.5,877.3 L957.0,877.3 L957.5,877.3 L958.0,877.3 L958.5,877.3 L959.0,877.4 L959.5,877.4 L960.0,877.4 L960.5,877.4 L961.0,877.4 L961.5,877.4 L962.0,877.4 L962.5,877.4 L963.0,877.5 L963.5,877.5 L964.0,877.5 L964.5,877.5 L965.0,877.5 L965.5,877.5 L966.0,877.6 L966.5,877.6 L967.0,877.6 L967.5,877.6 L968.0,877.6 L968.5,877.7 L969.0,877.7 L969.5,877.7 L970.0,877.7 L970.5,877.8 L971.0,877.8 L971.5,877.8 L972.0,877.8 L972.5,877.9 L973.0,877.9 L973.5,877.9 L974.0,878.0 L974.5,878.0 L975.0,878.0 L975.5,878.0 L976.0,878.1 L976.5,878.1 L977.0,878.1 L977.5,878.2 L978.0,878.2 L978.5,878.2 L979.0,878.3 L979.5,878.3 L980.0,878.4 L980.5,878.4 L981.0,878.4 L981.5,878.5 L982.0,878.5 L982.5,878.6 L983.0,878.6 L983.5,878.6 L984.0,878.7 L984.5,878.7 L985.0,878.8 L985.5,878.8 L986.0,878.9 L986.5,878.9 L987.0,879.0 L987.5,879.0 L988.0,879.0 L988.5,879.1 L989.0,879.1 L989.5,879.2 L990.0,879.2 L990.5,879.3 L991.0,879.3 L991.5,879.4 L992.0,879.5 L992.5,879.5 L993.0,879.6 L993.5,879.6 L994.0,879.7 L994.5,879.7 L995.0,879.8 L995.5,879.8 L996.0,879.9 L996.5,880.0 L997.0,880.0 L997.5,880.1 L998.0,880.1 L998.5,880.2 L999.0,880.3 L999.5,880.3 L1000.0,880.4 L1000.5,880.5 L1001.0,880.5 L1001.5,880.6 L1002.0,880.7 L1002.5,880.7 L1003.0,880.8 L1003.5,880.9 L1004.0,880.9 L1004.5,881.0 L1005.0,881.1 L1005.5,881.1 L1006.0,881.2 L1006.5,881.3 L1007.0,881.4 L1007.5,881.4 L1008.0,881.5 L1008.5,881.6 L1009.0,881.7 L1009.5,881.7 L1010.0,881.8 L1010.5,881.9 L1011.0,882.0 L1011.5,882.1 L1012.0,882.1 L1012.5,882.2 L1013.0,882.3 L1013.5,882.4 L1014.0,882.5 L1014.5,882.5 L1015.0,882.6 L1015.5,882.7 L1016.0,882.8 L1016.5,882.9 L1017.0,883.0 L1017.5,883.0 L1018.0,883.1 L1018.5,883.2 L1019.0,883.3 L1019.5,883.4 L1020.0,883.5 L1020.5,883.6 L1021.0,883.7 L1021.5,883.8 L1022.0,883.8 L1022.5,883.9 L1023.0,884.0 L1023.5,884.1 L1024.0,884.2 L1024.5,884.3 L1025.0,884.4 L1025.5,884.5 L1026.0,884.6 L1026.5,884.7 L1027.0,884.8 L1027.5,884.9 L1028.0,885.0 L1028.5,885.1 L1029.0,885.2 L1029.5,885.3 L1030.0,885.4 L1030.5,885.5 L1031.0,885.6 L1031.5,885.7 L1032.0,885.8 L1032.5,885.9 L1033.0,886.0 L1033.5,886.1 L1034.0,886.2 L1034.5,886.3 L1035.0,886.4 L1035.5,886.5 L1036.0,886.6 L1036.5,886.7 L1037.0,886.8 L1037.5,887.0 L1038.0,887.1 L1038.5,887.2 L1039.0,887.3 L1039.5,887.4 L1040.0,887.5 L1040.5,887.6 L1041.0,887.7 L1041.5,887.8 L1042.0,888.0 L1042.5,888.1 L1043.0,888.2 L1043.5,888.3 L1044.0,888.4 L1044.5,888.5 L1045.0,888.6 L1045.5,888.8 L1046.0,888.9 L1046.5,889.0 L1047.0,889.1 L1047.5,889.2 L1048.0,889.3 L1048.5,889.5 L1049.0,889.6 L1049.5,889.7 L1050.0,889.8 L1050.5,889.9 L1051.0,890.1 L1051.5,890.2 L1052.0,890.3 L1052.5,890.4 L1053.0,890.5 L1053.5,890.7 L1054.0,890.8 L1054.5,890.9 L1055.0,891.0 L1055.5,891.2 L1056.0,891.3 L1056.5,891.4 L1057.0,891.5 L1057.5,891.7 L1058.0,891.8 L1058.5,891.9 L1059.0,892.0 L1059.5,892.2 L1060.0,892.3 L1060.5,892.4 L1061.0,892.6 L1061.5,892.7 L1062.0,892.8 L1062.5,892.9 L1063.0,893.1 L1063.5,893.2 L1064.0,893.3 L1064.5,893.5 L1065.0,893.6 L1065.5,893.7 L1066.0,893.9 L1066.5,894.0 L1067.0,894.1 L1067.5,894.3 L1068.0,894.4 L1068.5,894.5 L1069.0,894.7 L1069.5,894.8 L1070.0,894.9 L1070.5,895.1 L1071.0,895.2 L1071.5,895.3 L1072.0,895.5 L1072.5,895.6 L1073.0,895.7 L1073.5,895.9 L1074.0,896.0 L1074.5,896.1 L1075.0,896.3 L1075.5,896.4 L1076.0,896.6 L1076.5,896.7 L1077.0,896.8 L1077.5,897.0 L1078.0,897.1 L1078.5,897.3 L1079.0,897.4 L1079.5,897.5 L1080.0,897.7 L1080.5,897.8 L1081.0,897.9 L1081.5,898.1 L1082.0,898.2 L1082.5,898.4 L1083.0,898.5 L1083.5,898.6 L1084.0,898.8 L1084.5,898.9 L1085.0,899.1 L1085.5,899.2 L1086.0,899.4 L1086.5,899.5 L1087.0,899.6 L1087.5,899.8 L1088.0,899.9 L1088.5,900.1 L1089.0,900.2 L1089.5,900.3 L1090.0,900.5 L1090.5,900.6 L1091.0,900.8 L1091.5,900.9 L1092.0,901.1 L1092.5,901.2 L1093.0,901.4 L1093.5,901.5 L1094.0,901.6 L1094.5,901.8 L1095.0,901.9 L1095.5,902.1 L1096.0,902.2 L1096.5,902.4 L1097.0,902.5 L1097.5,902.6 L1098.0,902.8 L1098.5,902.9 L1099.0,903.1 L1099.5,903.2 L1100.0,903.4 L1100.5,903.5 L1101.0,903.7 L1101.5,903.8 L1102.0,904.0 L1102.5,904.1 L1103.0,904.2 L1103.5,904.4 L1104.0,904.5 L1104.5,904.7 L1105.0,904.8 L1105.5,905.0 L1106.0,905.1 L1106.5,905.3 L1107.0,905.4 L1107.5,905.5 L1108.0,905.7 L1108.5,905.8 L1109.0,906.0 L1109.5,906.1 L1110.0,906.3 L1110.5,906.4 L1111.0,906.6 L1111.5,906.7 L1112.0,906.9 L1112.5,907.0 L1113.0,907.1 L1113.5,907.3 L1114.0,907.4 L1114.5,907.6 L1115.0,907.7 L1115.5,907.9 L1116.0,908.0 L1116.5,908.2 L1117.0,908.3 L1117.5,908.5 L1118.0,908.6 L1118.5,908.7 L1119.0,908.9 L1119.5,909.0 L1120.0,909.2 L1120.5,909.3 L1121.0,909.5 L1121.5,909.6 L1122.0,909.8 L1122.5,909.9 L1123.0,910.0 L1123.5,910.2 L1124.0,910.3 L1124.5,910.5 L1125.0,910.6 L1125.5,910.8 L1126.0,910.9 L1126.5,911.1 L1127.0,911.2 L1127.5,911.3 L1128.0,911.5 L1128.5,911.6 L1129.0,911.8 L1129.5,911.9 L1130.0,912.1 L1130.5,912.2 L1131.0,912.3 L1131.5,912.5 L1132.0,912.6 L1132.5,912.8 L1133.0,912.9 L1133.5,913.1 L1134.0,913.2 L1134.5,913.3 L1135.0,913.5 L1135.5,913.6 L1136.0,913.8 L1136.5,913.9 L1137.0,914.0 L1137.5,914.2 L1138.0,914.3 L1138.5,914.5 L1139.0,914.6 L1139.5,914.7 L1140.0,914.9 L1140.5,915.0 L1141.0,915.2 L1141.5,915.3 L1142.0,915.4 L1142.5,915.6 L1143.0,915.7 L1143.5,915.8 L1144.0,916.0 L1144.5,916.1 L1145.0,916.3 L1145.5,916.4 L1146.0,916.5 L1146.5,916.7 L1147.0,916.8 L1147.5,916.9 L1148.0,917.1 L1148.5,917.2 L1149.0,917.4 L1149.5,917.5 L1150.0,917.6 L1150.5,917.8 L1151.0,917.9 L1151.5,918.0 L1152.0,918.2 L1152.5,918.3 L1153.0,918.4 L1153.5,918.6 L1154.0,918.7 L1154.5,918.8 L1155.0,919.0 L1155.5,919.1 L1156.0,919.2 L1156.5,919.4 L1157.0,919.5 L1157.5,919.6 L1158.0,919.8 L1158.5,919.9 L1159.0,920.0 L1159.5,920.1 L1160.0,920.3 L1160.5,920.4 L1161.0,920.5 L1161.5,920.7 L1162.0,920.8 L1162.5,920.9 L1163.0,921.0 L1163.5,921.2 L1164.0,921.3 L1164.5,921.4 L1165.0,921.6 L1165.5,921.7 L1166.0,921.8 L1166.5,921.9 L1167.0,922.1 L1167.5,922.2 L1168.0,922.3 L1168.5,922.4 L1169.0,922.6 L1169.5,922.7 L1170.0,922.8 L1170.5,922.9 L1171.0,923.1 L1171.5,923.2 L1172.0,923.3 L1172.5,923.4 L1173.0,923.6 L1173.5,923.7 L1174.0,923.8 L1174.5,923.9 L1175.0,924.0 L1175.5,924.2 L1176.0,924.3 L1176.5,924.4 L1177.0,924.5 L1177.5,924.6 L1178.0,924.8 L1178.5,924.9 L1179.0,925.0 L1179.5,925.1 L1180.0,925.2 L1180.5,925.3 L1181.0,925.5 L1181.5,925.6 L1182.0,925.7 L1182.5,925.8 L1183.0,925.9 L1183.5,926.0 L1184.0,926.2 L1184.5,926.3 L1185.0,926.4 L1185.5,926.5 L1186.0,926.6 L1186.5,926.7 L1187.0,926.8 L1187.5,926.9 L1188.0,927.1 L1188.5,927.2 L1189.0,927.3 L1189.5,927.4 L1190.0,927.5 L1190.5,927.6 L1191.0,927.7 L1191.5,927.8 L1192.0,927.9 L1192.5,928.1 L1193.0,928.2 L1193.5,928.3 L1194.0,928.4 L1194.5,928.5 L1195.0,928.6 L1195.5,928.7 L1196.0,928.8 L1196.5,928.9 L1197.0,929.0 L1197.5,929.1 L1198.0,929.2 L1198.5,929.3 L1199.0,929.4 L1199.5,929.5 L1200.0,929.6 L1200.5,929.7 L1201.0,929.8 L1201.5,929.9 L1202.0,930.0 L1202.5,930.1 L1203.0,930.2 L1203.5,930.3 L1204.0,930.4 L1204.5,930.5 L1205.0,930.6 L1205.5,930.7 L1206.0,930.8 L1206.5,930.9 L1207.0,931.0 L1207.5,931.1 L1208.0,931.2 L1208.5,931.3 L1209.0,931.4 L1209.5,931.5 L1210.0,931.6 L1210.5,931.7 L1211.0,931.8 L1211.5,931.9 L1212.0,932.0 L1212.5,932.1 L1213.0,932.2 L1213.5,932.3 L1214.0,932.4 L1214.5,932.5 L1215.0,932.5 L1215.5,932.6 L1216.0,932.7 L1216.5,932.8 L1217.0,932.9 L1217.5,933.0 L1218.0,933.1 L1218.5,933.2 L1219.0,933.3 L1219.5,933.4 L1220.0,933.4 L1220.5,933.5 L1221.0,933.6 L1221.5,933.7 L1222.0,933.8 L1222.5,933.9 L1223.0,934.0 L1223.5,934.0 L1224.0,934.1 L1224.5,934.2 L1225.0,934.3 L1225.5,934.4 L1226.0,934.5 L1226.5,934.6 L1227.0,934.6 L1227.5,934.7 L1228.0,934.8 L1228.5,934.9 L1229.0,935.0 L1229.5,935.0 L1230.0,935.1 L1230.5,935.2 L1231.0,935.3 L1231.5,935.4 L1232.0,935.4 L1232.5,935.5 L1233.0,935.6 L1233.5,935.7 L1234.0,935.7 L1234.5,935.8 L1235.0,935.9 L1235.5,936.0 L1236.0,936.1 L1236.5,936.1 L1237.0,936.2 L1237.5,936.3 L1238.0,936.4 L1238.5,936.4 L1239.0,936.5 L1239.5,936.6 L1240.0,936.6 L1240.5,936.7 L1241.0,936.8 L1241.5,936.9 L1242.0,936.9 L1242.5,937.0 L1243.0,937.1 L1243.5,937.1 L1244.0,937.2 L1244.5,937.3 L1245.0,937.4 L1245.5,937.4 L1246.0,937.5 L1246.5,937.6 L1247.0,937.6 L1247.5,937.7 L1248.0,937.8 L1248.5,937.8 L1249.0,937.9 L1249.5,938.0 L1250.0,938.0 L1250.5,938.1 L1251.0,938.2 L1251.5,938.2 L1252.0,938.3 L1252.5,938.3 L1253.0,938.4" fill="none" stroke="#4a4a4a" stroke-width="4.6" stroke-linecap="round" stroke-dasharray="0 19.25" stroke-dashoffset="1.05"/>
<path d="M81.0,882.0 L86.0,889.0 L90.5,862.5 L94.0,890.0 L98.0,852.5 L101.0,870.0 L105.0,867.5 L110.5,877.5 L115.5,876.0 L121.0,874.0 L125.5,894.0 L132.0,885.0 L137.0,864.0 L140.0,877.5 L145.5,895.0 L153.0,882.5 L160.5,892.5 L165.5,888.0 L172.0,881.0 L179.0,894.0 L188.0,874.0 L190.5,892.5 L197.0,891.0 L203.0,895.0 L205.5,879.0 L209.0,890.0 L213.0,877.5 L218.0,872.5 L224.0,872.5 L228.0,861.0 L232.0,850.5 L236.4,844.0 L237.4,829.0 L240.6,810.0 L244.8,800.7 L253.3,806.0 L261.8,808.0 L267.0,816.5 L270.3,774.0 L274.5,791.0 L278.8,805.0 L281.0,778.0 L286.0,757.0 L287.0,727.5 L291.5,719.0 L293.6,715.0 L297.8,695.7 L302.0,676.6 L307.4,651.0 L310.5,651.0 L317.0,654.4 L321.0,645.0 L325.4,653.3 L331.8,666.0 L336.0,659.5 L341.0,667.5 L348.0,669.0 L354.0,663.0 L361.0,671.0 L365.0,680.0 L372.5,686.0 L379.0,695.0 L382.5,692.5 L387.0,705.0 L394.0,709.0 L398.0,717.5 L405.0,721.0 L410.0,731.0 L417.5,734.0 L426.0,736.0 L432.5,744.0 L439.0,740.0 L447.5,739.0 L455.0,732.5 L459.0,740.0 L464.0,722.5 L469.0,714.0 L474.0,712.5 L482.5,700.0 L486.0,682.5 L490.0,671.0 L492.5,665.7 L500.8,632.5 L506.3,593.8 L511.8,555.0 L517.4,510.7 L523.0,455.4 L527.0,413.8 L531.2,376.0 L536.0,328.0 L540.8,292.0 L544.4,256.0 L546.8,232.0 L550.4,217.6 L554.0,196.0 L554.0,196.0 C554.4,194.4 555.6,186.8 556.4,186.4 C557.2,186.0 557.8,193.2 558.8,193.6 C559.8,194.0 560.8,187.2 562.4,188.8 C564.0,190.4 566.8,198.0 568.4,203.2 C570.0,208.4 570.6,211.2 572.0,220.0 C573.4,228.8 575.2,243.6 576.8,256.0 C578.4,268.4 580.2,282.4 581.6,294.4 C583.0,306.4 584.0,314.4 585.2,328.0 C586.4,341.6 587.6,360.7 588.8,376.0 C590.0,391.3 591.4,405.3 592.3,420.0 C593.2,434.7 593.5,449.2 594.4,464.0 C595.3,478.8 596.4,493.7 597.7,508.5 C599.0,523.3 600.9,541.0 602.0,552.8 C603.1,564.6 603.7,570.1 604.6,579.5 C605.5,588.9 606.4,599.1 607.5,609.0 C608.6,618.9 609.8,628.8 611.2,638.6 C612.6,648.4 614.5,658.2 615.7,668.0 C616.9,677.8 617.6,689.8 618.6,697.6 C619.6,705.4 620.5,708.4 621.5,715.0 C622.5,721.6 623.4,728.7 624.8,737.0 C626.2,745.3 628.0,755.9 629.8,764.7 C631.6,773.5 634.1,783.5 635.7,790.0 C637.4,796.5 638.4,798.3 639.7,803.4 C641.0,808.5 642.2,815.2 643.7,820.8 C645.2,826.4 647.2,832.0 649.0,836.9 C650.8,841.8 652.6,845.8 654.4,850.2 C656.2,854.7 657.8,859.1 659.8,863.6 C661.8,868.1 664.0,872.5 666.5,877.0 C669.0,881.5 671.6,886.4 674.5,890.4 C677.4,894.4 680.9,898.1 683.8,901.0 C686.7,903.9 689.2,906.5 691.9,907.7 C694.6,908.9 697.7,908.6 699.9,908.4 C702.1,908.2 704.3,906.7 705.2,906.4" fill="none" stroke="#262626" stroke-width="3.5" stroke-linejoin="round"/>
<path d="M728,301 L729.5,316 M728.5,304 L736.5,324 L740,308" fill="none" stroke="#505050" stroke-width="2.6"/>
<path d="M586.6,913.0 C587.0,911.6 587.4,910.3 589.1,904.8 C590.8,899.3 594.5,888.1 596.6,879.8 C598.7,871.5 600.1,863.3 601.6,855.0 C603.1,846.7 604.6,838.3 605.8,830.0 C606.9,821.7 607.6,812.5 608.5,805.0 C609.4,797.5 610.2,791.7 611.0,785.0 C611.8,778.3 612.4,773.9 613.5,764.7 C614.6,755.5 616.6,740.8 617.9,730.0 C619.1,719.2 619.9,709.7 621.0,700.0 C622.1,690.3 623.1,682.0 624.5,672.0 C625.9,662.0 627.8,649.8 629.2,640.0 C630.6,630.2 631.8,621.3 633.0,613.0 C634.2,604.7 635.1,599.1 636.5,590.0 C637.9,580.9 640.1,568.3 641.5,558.5 C642.9,548.7 643.9,539.0 645.0,531.0 C646.1,523.0 646.9,516.5 648.0,510.6 C649.1,504.8 650.4,500.3 651.7,495.9 C653.1,491.5 654.2,487.6 656.1,484.0 C658.0,480.4 660.2,477.4 662.8,474.5 C665.4,471.6 668.6,469.2 671.6,466.4 C674.6,463.6 678.0,460.7 680.5,457.5 C683.0,454.3 684.7,450.9 686.4,447.2 C688.1,443.5 689.3,439.8 690.8,435.4 C692.3,431.0 693.7,425.5 695.2,420.6 C696.7,415.7 697.3,413.9 699.6,405.9 C701.9,397.9 706.8,381.1 708.9,372.5 C711.0,363.9 711.3,360.1 712.5,354.0 C713.7,347.9 715.2,339.5 716.2,335.6 C717.2,331.7 717.1,333.2 718.5,330.4 C719.9,327.6 722.6,321.4 724.4,318.6 C726.2,315.8 727.9,314.1 729.5,313.5 C731.1,312.9 732.3,315.0 734.0,315.0 C735.7,315.0 737.9,312.7 739.9,313.5 C741.9,314.3 743.8,317.8 745.8,320.0 C747.8,322.2 750.2,324.5 751.7,326.7 C753.2,328.9 753.6,330.1 754.6,333.4 C755.6,336.7 756.5,342.6 757.6,346.7 C758.7,350.8 760.1,353.7 761.3,357.7 C762.5,361.7 763.8,365.3 765.0,370.5 C766.2,375.7 766.8,380.8 768.6,389.0 C770.4,397.2 773.4,408.5 776.0,420.0 C778.6,431.5 781.3,445.2 784.0,458.0 C786.7,470.8 789.4,484.4 792.0,497.0 C794.6,509.6 797.2,523.3 799.5,533.8 C801.8,544.3 802.6,547.3 805.5,560.0 C808.4,572.7 814.2,598.9 816.6,610.0 C819.0,621.1 818.7,621.1 820.0,626.6 C821.3,632.1 822.9,637.7 824.5,643.2 C826.1,648.7 827.5,654.3 829.5,659.8 C831.5,665.3 834.4,670.9 836.6,676.4 C838.8,681.9 840.7,687.1 842.8,693.0 C844.9,698.9 846.4,704.3 849.4,711.7 C852.4,719.1 856.9,728.9 861.0,737.5 C865.1,746.1 868.9,754.7 873.9,763.3 C878.9,771.9 885.5,782.4 890.7,789.1 C895.9,795.8 900.0,798.4 905.2,803.6 C910.4,808.8 916.3,815.1 921.8,820.2 C927.3,825.3 932.9,829.4 938.4,834.0 C943.9,838.6 951.0,844.8 955.0,847.9 C959.0,851.0 958.6,850.3 962.5,852.5 C966.4,854.7 972.9,858.2 978.1,861.1 C983.3,864.0 988.5,867.1 993.8,869.7 C999.0,872.3 1004.2,874.6 1009.4,876.7 C1014.6,878.8 1019.8,880.5 1025.0,882.2 C1030.2,883.9 1035.4,885.3 1040.6,886.9 C1045.8,888.5 1051.0,890.2 1056.2,891.6 C1061.5,893.0 1066.7,894.2 1071.9,895.5 C1077.1,896.8 1081.5,897.9 1087.5,899.5 C1093.5,901.1 1100.0,902.9 1108.1,905.3 C1116.2,907.7 1126.9,911.0 1136.2,913.8 C1145.6,916.5 1155.0,919.0 1164.4,921.5 C1173.8,924.0 1183.1,926.5 1192.5,928.5 C1201.9,930.5 1210.5,931.8 1220.6,933.4 C1230.7,935.0 1247.6,937.1 1253.0,937.9" fill="none" stroke="#d8202e" stroke-width="3.3" stroke-linejoin="round"/>
<path d="M1012.0,882.1 L1012.5,882.2 L1013.0,882.3 L1013.5,882.4 L1014.0,882.5 L1014.5,882.5 L1015.0,882.6 L1015.5,882.7 L1016.0,882.8 L1016.5,882.9 L1017.0,883.0 L1017.5,883.0 L1018.0,883.1 L1018.5,883.2 L1019.0,883.3 L1019.5,883.4 L1020.0,883.5 L1020.5,883.6 L1021.0,883.7 L1021.5,883.8 L1022.0,883.8 L1022.5,883.9 L1023.0,884.0 L1023.5,884.1 L1024.0,884.2 L1024.5,884.3 L1025.0,884.4 L1025.5,884.5 L1026.0,884.6 L1026.5,884.7 L1027.0,884.8 L1027.5,884.9 L1028.0,885.0 L1028.5,885.1 L1029.0,885.2 L1029.5,885.3 L1030.0,885.4 L1030.5,885.5 L1031.0,885.6 L1031.5,885.7 L1032.0,885.8 L1032.5,885.9 L1033.0,886.0 L1033.5,886.1 L1034.0,886.2 L1034.5,886.3 L1035.0,886.4 L1035.5,886.5 L1036.0,886.6 L1036.5,886.7 L1037.0,886.8 L1037.5,887.0 L1038.0,887.1 L1038.5,887.2 L1039.0,887.3 L1039.5,887.4 L1040.0,887.5 L1040.5,887.6 L1041.0,887.7 L1041.5,887.8 L1042.0,888.0 L1042.5,888.1 L1043.0,888.2 L1043.5,888.3 L1044.0,888.4 L1044.5,888.5 L1045.0,888.6 L1045.5,888.8 L1046.0,888.9 L1046.5,889.0 L1047.0,889.1 L1047.5,889.2 L1048.0,889.3 L1048.5,889.5 L1049.0,889.6 L1049.5,889.7 L1050.0,889.8 L1050.5,889.9 L1051.0,890.1 L1051.5,890.2 L1052.0,890.3 L1052.5,890.4 L1053.0,890.5 L1053.5,890.7 L1054.0,890.8 L1054.5,890.9 L1055.0,891.0 L1055.5,891.2 L1056.0,891.3 L1056.5,891.4 L1057.0,891.5 L1057.5,891.7 L1058.0,891.8 L1058.5,891.9 L1059.0,892.0 L1059.5,892.2 L1060.0,892.3 L1060.5,892.4 L1061.0,892.6 L1061.5,892.7 L1062.0,892.8 L1062.5,892.9 L1063.0,893.1 L1063.5,893.2 L1064.0,893.3 L1064.5,893.5 L1065.0,893.6 L1065.5,893.7 L1066.0,893.9 L1066.5,894.0 L1067.0,894.1 L1067.5,894.3 L1068.0,894.4 L1068.5,894.5 L1069.0,894.7 L1069.5,894.8 L1070.0,894.9 L1070.5,895.1 L1071.0,895.2 L1071.5,895.3 L1072.0,895.5 L1072.5,895.6 L1073.0,895.7 L1073.5,895.9 L1074.0,896.0 L1074.5,896.1 L1075.0,896.3 L1075.5,896.4 L1076.0,896.6 L1076.5,896.7 L1077.0,896.8 L1077.5,897.0 L1078.0,897.1 L1078.5,897.3 L1079.0,897.4 L1079.5,897.5 L1080.0,897.7 L1080.5,897.8 L1081.0,897.9 L1081.5,898.1 L1082.0,898.2 L1082.5,898.4 L1083.0,898.5 L1083.5,898.6 L1084.0,898.8 L1084.5,898.9 L1085.0,899.1 L1085.5,899.2 L1086.0,899.4 L1086.5,899.5 L1087.0,899.6 L1087.5,899.8 L1088.0,899.9 L1088.5,900.1 L1089.0,900.2 L1089.5,900.3 L1090.0,900.5 L1090.5,900.6 L1091.0,900.8 L1091.5,900.9 L1092.0,901.1 L1092.5,901.2 L1093.0,901.4 L1093.5,901.5 L1094.0,901.6 L1094.5,901.8 L1095.0,901.9 L1095.5,902.1 L1096.0,902.2 L1096.5,902.4 L1097.0,902.5 L1097.5,902.6 L1098.0,902.8 L1098.5,902.9 L1099.0,903.1 L1099.5,903.2 L1100.0,903.4 L1100.5,903.5 L1101.0,903.7 L1101.5,903.8 L1102.0,904.0 L1102.5,904.1 L1103.0,904.2 L1103.5,904.4 L1104.0,904.5 L1104.5,904.7 L1105.0,904.8 L1105.5,905.0 L1106.0,905.1 L1106.5,905.3 L1107.0,905.4 L1107.5,905.5 L1108.0,905.7 L1108.5,905.8 L1109.0,906.0 L1109.5,906.1 L1110.0,906.3 L1110.5,906.4 L1111.0,906.6 L1111.5,906.7 L1112.0,906.9 L1112.5,907.0 L1113.0,907.1 L1113.5,907.3 L1114.0,907.4 L1114.5,907.6 L1115.0,907.7 L1115.5,907.9 L1116.0,908.0 L1116.5,908.2 L1117.0,908.3 L1117.5,908.5 L1118.0,908.6 L1118.5,908.7 L1119.0,908.9 L1119.5,909.0 L1120.0,909.2 L1120.5,909.3 L1121.0,909.5 L1121.5,909.6 L1122.0,909.8 L1122.5,909.9 L1123.0,910.0 L1123.5,910.2 L1124.0,910.3 L1124.5,910.5 L1125.0,910.6 L1125.5,910.8 L1126.0,910.9 L1126.5,911.1 L1127.0,911.2 L1127.5,911.3 L1128.0,911.5 L1128.5,911.6 L1129.0,911.8 L1129.5,911.9 L1130.0,912.1 L1130.5,912.2 L1131.0,912.3 L1131.5,912.5 L1132.0,912.6 L1132.5,912.8 L1133.0,912.9 L1133.5,913.1 L1134.0,913.2 L1134.5,913.3 L1135.0,913.5 L1135.5,913.6 L1136.0,913.8 L1136.5,913.9 L1137.0,914.0 L1137.5,914.2 L1138.0,914.3 L1138.5,914.5 L1139.0,914.6 L1139.5,914.7 L1140.0,914.9 L1140.5,915.0 L1141.0,915.2 L1141.5,915.3 L1142.0,915.4 L1142.5,915.6 L1143.0,915.7 L1143.5,915.8 L1144.0,916.0 L1144.5,916.1 L1145.0,916.3 L1145.5,916.4 L1146.0,916.5 L1146.5,916.7 L1147.0,916.8 L1147.5,916.9 L1148.0,917.1 L1148.5,917.2 L1149.0,917.4 L1149.5,917.5 L1150.0,917.6 L1150.5,917.8 L1151.0,917.9 L1151.5,918.0 L1152.0,918.2 L1152.5,918.3 L1153.0,918.4 L1153.5,918.6 L1154.0,918.7 L1154.5,918.8 L1155.0,919.0 L1155.5,919.1 L1156.0,919.2 L1156.5,919.4 L1157.0,919.5 L1157.5,919.6 L1158.0,919.8 L1158.5,919.9 L1159.0,920.0 L1159.5,920.1 L1160.0,920.3 L1160.5,920.4 L1161.0,920.5 L1161.5,920.7 L1162.0,920.8 L1162.5,920.9 L1163.0,921.0 L1163.5,921.2 L1164.0,921.3 L1164.5,921.4 L1165.0,921.6 L1165.5,921.7 L1166.0,921.8 L1166.5,921.9 L1167.0,922.1 L1167.5,922.2 L1168.0,922.3 L1168.5,922.4 L1169.0,922.6 L1169.5,922.7 L1170.0,922.8 L1170.5,922.9 L1171.0,923.1 L1171.5,923.2 L1172.0,923.3 L1172.5,923.4 L1173.0,923.6 L1173.5,923.7 L1174.0,923.8 L1174.5,923.9 L1175.0,924.0 L1175.5,924.2 L1176.0,924.3 L1176.5,924.4 L1177.0,924.5 L1177.5,924.6 L1178.0,924.8 L1178.5,924.9 L1179.0,925.0 L1179.5,925.1 L1180.0,925.2 L1180.5,925.3 L1181.0,925.5 L1181.5,925.6 L1182.0,925.7 L1182.5,925.8 L1183.0,925.9 L1183.5,926.0 L1184.0,926.2 L1184.5,926.3 L1185.0,926.4 L1185.5,926.5 L1186.0,926.6 L1186.5,926.7 L1187.0,926.8 L1187.5,926.9 L1188.0,927.1 L1188.5,927.2 L1189.0,927.3 L1189.5,927.4 L1190.0,927.5 L1190.5,927.6 L1191.0,927.7 L1191.5,927.8 L1192.0,927.9 L1192.5,928.1 L1193.0,928.2 L1193.5,928.3 L1194.0,928.4 L1194.5,928.5 L1195.0,928.6 L1195.5,928.7 L1196.0,928.8 L1196.5,928.9 L1197.0,929.0 L1197.5,929.1 L1198.0,929.2 L1198.5,929.3 L1199.0,929.4 L1199.5,929.5 L1200.0,929.6 L1200.5,929.7 L1201.0,929.8 L1201.5,929.9 L1202.0,930.0 L1202.5,930.1 L1203.0,930.2 L1203.5,930.3 L1204.0,930.4 L1204.5,930.5 L1205.0,930.6 L1205.5,930.7 L1206.0,930.8 L1206.5,930.9 L1207.0,931.0 L1207.5,931.1 L1208.0,931.2 L1208.5,931.3 L1209.0,931.4 L1209.5,931.5 L1210.0,931.6 L1210.5,931.7 L1211.0,931.8 L1211.5,931.9 L1212.0,932.0 L1212.5,932.1 L1213.0,932.2 L1213.5,932.3 L1214.0,932.4 L1214.5,932.5 L1215.0,932.5 L1215.5,932.6 L1216.0,932.7 L1216.5,932.8 L1217.0,932.9 L1217.5,933.0 L1218.0,933.1 L1218.5,933.2 L1219.0,933.3 L1219.5,933.4 L1220.0,933.4 L1220.5,933.5 L1221.0,933.6 L1221.5,933.7 L1222.0,933.8 L1222.5,933.9 L1223.0,934.0 L1223.5,934.0 L1224.0,934.1 L1224.5,934.2 L1225.0,934.3 L1225.5,934.4 L1226.0,934.5 L1226.5,934.6 L1227.0,934.6 L1227.5,934.7 L1228.0,934.8 L1228.5,934.9 L1229.0,935.0 L1229.5,935.0 L1230.0,935.1 L1230.5,935.2 L1231.0,935.3 L1231.5,935.4 L1232.0,935.4 L1232.5,935.5 L1233.0,935.6 L1233.5,935.7 L1234.0,935.7 L1234.5,935.8 L1235.0,935.9 L1235.5,936.0 L1236.0,936.1 L1236.5,936.1 L1237.0,936.2 L1237.5,936.3 L1238.0,936.4 L1238.5,936.4 L1239.0,936.5 L1239.5,936.6 L1240.0,936.6 L1240.5,936.7 L1241.0,936.8 L1241.5,936.9 L1242.0,936.9 L1242.5,937.0 L1243.0,937.1 L1243.5,937.1 L1244.0,937.2 L1244.5,937.3 L1245.0,937.4 L1245.5,937.4 L1246.0,937.5 L1246.5,937.6 L1247.0,937.6 L1247.5,937.7 L1248.0,937.8 L1248.5,937.8 L1249.0,937.9 L1249.5,938.0 L1250.0,938.0 L1250.5,938.1 L1251.0,938.2 L1251.5,938.2 L1252.0,938.3 L1252.5,938.3 L1253.0,938.4" fill="none" stroke="#5a1424" stroke-width="4.2" stroke-linecap="round" stroke-dasharray="0 19.25" stroke-dashoffset="10.56" opacity="0.8"/>
<text x="138" y="84" font-size="46" text-anchor="start" font-family="Liberation Serif, serif" fill="#2a2a2a" stroke="#2a2a2a" stroke-width="0.6">λ</text>
<text x="162" y="102" font-size="26" text-anchor="start" textLength="34" lengthAdjust="spacingAndGlyphs" font-family="Liberation Serif, serif" fill="#2a2a2a" stroke="#2a2a2a" stroke-width="0.6">em</text>
<text x="195" y="84" font-size="47" text-anchor="start" textLength="158.5" lengthAdjust="spacingAndGlyphs" font-family="Liberation Serif, serif" fill="#2a2a2a" stroke="#2a2a2a" stroke-width="0.6">=370nm</text>
<text x="790" y="84" font-size="46" text-anchor="start" font-family="Liberation Serif, serif" fill="#2a2a2a" stroke="#2a2a2a" stroke-width="0.6">λ</text>
<text x="814" y="103" font-size="26" text-anchor="start" textLength="24" lengthAdjust="spacingAndGlyphs" font-family="Liberation Serif, serif" fill="#2a2a2a" stroke="#2a2a2a" stroke-width="0.6">ex</text>
<text x="840" y="84" font-size="47" text-anchor="start" textLength="157" lengthAdjust="spacingAndGlyphs" font-family="Liberation Serif, serif" fill="#2a2a2a" stroke="#2a2a2a" stroke-width="0.6">=325nm</text>
<text x="842.4" y="261" font-size="45" text-anchor="start" textLength="149" lengthAdjust="spacingAndGlyphs" font-family="Liberation Serif, serif" fill="#2a2a2a" stroke="#2a2a2a" stroke-width="0.6">1:344nm</text>
<path d="M1014,220 Q997,242 1014,264" fill="none" stroke="#555" stroke-width="3"/>
<text x="1017" y="261" font-size="45" text-anchor="start" textLength="161.7" lengthAdjust="spacingAndGlyphs" font-family="Liberation Serif, serif" fill="#2a2a2a" stroke="#2a2a2a" stroke-width="0.6">29070cm</text>
<line x1="1182" y1="229" x2="1188" y2="229" stroke="#333" stroke-width="2.6"/>
<text x="1190" y="237" font-size="22" text-anchor="start" font-family="Liberation Serif, serif" fill="#2a2a2a" stroke="#2a2a2a" stroke-width="0.6" font-weight="bold">1</text>
<path d="M1207,223 Q1224,244 1207,264" fill="none" stroke="#555" stroke-width="3"/>
<text x="842.4" y="325" font-size="45" text-anchor="start" textLength="149" lengthAdjust="spacingAndGlyphs" font-family="Liberation Serif, serif" fill="#2a2a2a" stroke="#2a2a2a" stroke-width="0.6">2:367nm</text>
<path d="M1014,284 Q997,306 1014,328" fill="none" stroke="#555" stroke-width="3"/>
<text x="1017" y="325" font-size="45" text-anchor="start" textLength="161.7" lengthAdjust="spacingAndGlyphs" font-family="Liberation Serif, serif" fill="#2a2a2a" stroke="#2a2a2a" stroke-width="0.6">27248cm</text>
<line x1="1182" y1="293" x2="1188" y2="293" stroke="#333" stroke-width="2.6"/>
<text x="1190" y="301" font-size="22" text-anchor="start" font-family="Liberation Serif, serif" fill="#2a2a2a" stroke="#2a2a2a" stroke-width="0.6" font-weight="bold">1</text>
<path d="M1207,287 Q1224,308 1207,328" fill="none" stroke="#555" stroke-width="3"/>
<text x="842.4" y="388.5" font-size="45" text-anchor="start" textLength="149" lengthAdjust="spacingAndGlyphs" font-family="Liberation Serif, serif" fill="#2a2a2a" stroke="#2a2a2a" stroke-width="0.6">3:395nm</text>
<path d="M1014,347.5 Q997,369.5 1014,391.5" fill="none" stroke="#555" stroke-width="3"/>
<text x="1017" y="388.5" font-size="45" text-anchor="start" textLength="161.7" lengthAdjust="spacingAndGlyphs" font-family="Liberation Serif, serif" fill="#2a2a2a" stroke="#2a2a2a" stroke-width="0.6">25361cm</text>
<line x1="1182" y1="356.5" x2="1188" y2="356.5" stroke="#333" stroke-width="2.6"/>
<text x="1190" y="364.5" font-size="22" text-anchor="start" font-family="Liberation Serif, serif" fill="#2a2a2a" stroke="#2a2a2a" stroke-width="0.6" font-weight="bold">1</text>
<path d="M1207,350.5 Q1224,371.5 1207,391.5" fill="none" stroke="#555" stroke-width="3"/>
<text x="842.4" y="451.5" font-size="45" text-anchor="start" textLength="149" lengthAdjust="spacingAndGlyphs" font-family="Liberation Serif, serif" fill="#2a2a2a" stroke="#2a2a2a" stroke-width="0.6">4:432nm</text>
<path d="M1014,410.5 Q997,432.5 1014,454.5" fill="none" stroke="#555" stroke-width="3"/>
<text x="1017" y="451.5" font-size="45" text-anchor="start" textLength="161.7" lengthAdjust="spacingAndGlyphs" font-family="Liberation Serif, serif" fill="#2a2a2a" stroke="#2a2a2a" stroke-width="0.6">23148cm</text>
<line x1="1182" y1="419.5" x2="1188" y2="419.5" stroke="#333" stroke-width="2.6"/>
<text x="1190" y="427.5" font-size="22" text-anchor="start" font-family="Liberation Serif, serif" fill="#2a2a2a" stroke="#2a2a2a" stroke-width="0.6" font-weight="bold">1</text>
<path d="M1207,413.5 Q1224,434.5 1207,454.5" fill="none" stroke="#555" stroke-width="3"/>
<text x="534" y="245" font-size="43" text-anchor="start" textLength="119" lengthAdjust="spacingAndGlyphs" transform="rotate(-90 534 245)" font-family="Liberation Serif, serif" fill="#2a2a2a" stroke="#2a2a2a" stroke-width="0.6">325nm</text>
<text x="758" y="285" font-size="43" text-anchor="start" textLength="121" lengthAdjust="spacingAndGlyphs" transform="rotate(-90 758 285)" font-family="Liberation Serif, serif" fill="#2a2a2a" stroke="#2a2a2a" stroke-width="0.6">370nm</text>
<text x="668" y="459" font-size="44" text-anchor="start" textLength="120" lengthAdjust="spacingAndGlyphs" transform="rotate(-90 668 459)" font-family="Liberation Serif, serif" fill="#2a2a2a" stroke="#2a2a2a" stroke-width="0.6">350nm</text>
<text x="326" y="641" font-size="43" text-anchor="start" textLength="118" lengthAdjust="spacingAndGlyphs" transform="rotate(-90 326 641)" font-family="Liberation Serif, serif" fill="#2a2a2a" stroke="#2a2a2a" stroke-width="0.6">260nm</text>
<text x="33.5" y="608" font-size="45" text-anchor="start" textLength="274" lengthAdjust="spacingAndGlyphs" transform="rotate(-90 33.5 608)" font-family="Liberation Serif, serif" fill="#2a2a2a" stroke="#2a2a2a" stroke-width="0.6">Intensity(a.u.)</text>
<text x="453.75" y="511" font-size="46" text-anchor="start" textLength="46.3" lengthAdjust="spacingAndGlyphs" font-family="Liberation Serif, serif" fill="#2a2a2a" stroke="#2a2a2a" stroke-width="0.6">Ex</text>
<text x="839.5" y="645" font-size="46" text-anchor="start" textLength="61" lengthAdjust="spacingAndGlyphs" font-family="Liberation Serif, serif" fill="#2a2a2a" stroke="#2a2a2a" stroke-width="0.6">Em</text>
<g transform="translate(647.5 0) scale(0.62 1) translate(-647.5 0)"><text x="647.5" y="699" font-size="44" text-anchor="middle" font-family="Liberation Serif, serif" fill="#333" stroke="#333" stroke-width="0.9">1</text></g>
<text x="722" y="405" font-size="46" text-anchor="start" font-family="Liberation Serif, serif" fill="#333" stroke="#333" stroke-width="0.4">2</text>
<text x="821.5" y="791" font-size="46" text-anchor="start" font-family="Liberation Serif, serif" fill="#333" stroke="#333" stroke-width="0.4">3</text>
<text x="989.5" y="916" font-size="42" text-anchor="start" font-family="Liberation Serif, serif" fill="#333" stroke="#333" stroke-width="0.4">4</text>
<text x="542.5" y="1072" font-size="48" text-anchor="start" textLength="354.55" lengthAdjust="spacing" transform="translate(542.5 1072) scale(0.88 1) translate(-542.5 -1072.0)" font-family="Liberation Serif, serif" fill="#2a2a2a" stroke="#2a2a2a" stroke-width="0.6">Wavelength(nm)</text>
<text x="78.3" y="1016" font-size="42" text-anchor="middle" textLength="59" lengthAdjust="spacingAndGlyphs" font-family="Liberation Serif, serif" fill="#2a2a2a" stroke="#2a2a2a" stroke-width="0.6">200</text>
<text x="273.5" y="1016" font-size="42" text-anchor="middle" textLength="59" lengthAdjust="spacingAndGlyphs" font-family="Liberation Serif, serif" fill="#2a2a2a" stroke="#2a2a2a" stroke-width="0.6">250</text>
<text x="467.9" y="1016" font-size="42" text-anchor="middle" textLength="59" lengthAdjust="spacingAndGlyphs" font-family="Liberation Serif, serif" fill="#2a2a2a" stroke="#2a2a2a" stroke-width="0.6">300</text>
<text x="666.0" y="1016" font-size="42" text-anchor="middle" textLength="59" lengthAdjust="spacingAndGlyphs" font-family="Liberation Serif, serif" fill="#2a2a2a" stroke="#2a2a2a" stroke-width="0.6">350</text>
<text x="859.4" y="1016" font-size="42" text-anchor="middle" textLength="59" lengthAdjust="spacingAndGlyphs" font-family="Liberation Serif, serif" fill="#2a2a2a" stroke="#2a2a2a" stroke-width="0.6">400</text>
<text x="1055.8" y="1016" font-size="42" text-anchor="middle" textLength="59" lengthAdjust="spacingAndGlyphs" font-family="Liberation Serif, serif" fill="#2a2a2a" stroke="#2a2a2a" stroke-width="0.6">450</text>
<text x="1253.7" y="1016" font-size="42" text-anchor="middle" textLength="59" lengthAdjust="spacingAndGlyphs" font-family="Liberation Serif, serif" fill="#2a2a2a" stroke="#2a2a2a" stroke-width="0.6">500</text>
</g>
</svg>
</body></html>
